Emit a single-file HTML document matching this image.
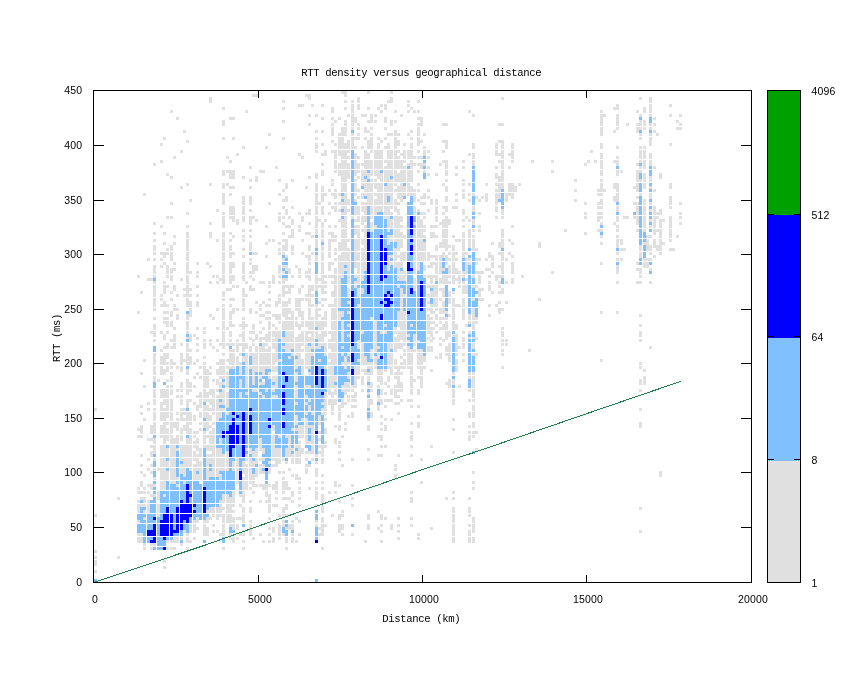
<!DOCTYPE html>
<html><head><meta charset="utf-8"><title>RTT density versus geographical distance</title>
<style>
html,body{margin:0;padding:0;background:#fff}
svg{display:block}
.s{font-family:"Liberation Sans",sans-serif;font-size:10.5px;letter-spacing:0.16px;fill:#000}
.m{font-family:"Liberation Mono",monospace;font-size:10.6px;letter-spacing:-0.36px;fill:#000}
</style></head><body>
<svg width="845" height="673" viewBox="0 0 845 673">
<rect width="845" height="673" fill="#fff"/>
<g shape-rendering="crispEdges">
<path fill="#e0e0e0" d="M341 91h6v3h-6zM367 91h3v3h-3zM390 91h3v3h-3zM252 94h6v3h-6zM305 94h6v3h-6zM344 94h3v3h-3zM209 97h3v3h-3zM308 97h3v3h-3zM357 97h3v3h-3zM390 97h3v3h-3zM501 97h3v3h-3zM639 97h3v3h-3zM649 97h3v3h-3zM209 100h3v3h-3zM282 100h3v3h-3zM344 100h3v3h-3zM351 100h3v3h-3zM357 100h3v3h-3zM387 100h6v3h-6zM407 100h3v3h-3zM417 100h3v3h-3zM649 100h3v3h-3zM298 104h6v3h-6zM311 104h3v3h-3zM321 104h3v3h-3zM351 104h3v3h-3zM357 104h3v3h-3zM380 104h3v3h-3zM384 104h3v3h-3zM407 104h3v3h-3zM616 104h3v3h-3zM649 104h3v3h-3zM669 104h3v3h-3zM222 107h3v3h-3zM282 107h3v3h-3zM331 107h3v3h-3zM344 107h3v3h-3zM351 107h3v3h-3zM357 107h3v3h-3zM367 107h3v3h-3zM377 107h3v3h-3zM384 107h3v3h-3zM410 107h3v3h-3zM613 107h6v3h-6zM643 107h3v3h-3zM649 107h3v3h-3zM170 110h3v3h-3zM245 110h3v3h-3zM331 110h3v3h-3zM351 110h3v3h-3zM380 110h3v3h-3zM394 110h3v3h-3zM407 110h3v3h-3zM413 110h3v3h-3zM417 110h3v3h-3zM468 110h3v3h-3zM600 110h3v3h-3zM636 110h3v3h-3zM643 110h3v3h-3zM649 110h3v3h-3zM308 114h3v3h-3zM315 114h3v3h-3zM347 114h3v3h-3zM351 114h3v3h-3zM361 114h6v3h-6zM370 114h3v3h-3zM374 114h3v3h-3zM400 114h3v3h-3zM472 114h3v3h-3zM600 114h6v3h-6zM616 114h3v3h-3zM639 114h3v3h-3zM649 114h3v3h-3zM669 114h3v3h-3zM679 114h3v3h-3zM176 117h3v3h-3zM229 117h6v3h-6zM321 117h3v3h-3zM331 117h3v3h-3zM338 117h3v3h-3zM351 117h6v3h-6zM370 117h3v3h-3zM384 117h3v3h-3zM417 117h6v3h-6zM600 117h3v3h-3zM616 117h3v3h-3zM653 117h3v3h-3zM222 120h3v3h-3zM282 120h3v3h-3zM334 120h3v3h-3zM344 120h3v3h-3zM351 120h6v3h-6zM367 120h6v3h-6zM374 120h3v3h-3zM384 120h3v3h-3zM390 120h3v3h-3zM394 120h3v3h-3zM420 120h3v3h-3zM600 120h3v3h-3zM616 120h3v3h-3zM639 120h3v3h-3zM643 120h3v3h-3zM676 120h3v3h-3zM222 123h3v3h-3zM308 123h3v3h-3zM331 123h3v3h-3zM344 123h3v3h-3zM351 123h3v3h-3zM357 123h3v3h-3zM390 123h3v3h-3zM417 123h6v3h-6zM442 123h6v3h-6zM498 123h6v3h-6zM600 123h3v3h-3zM616 123h3v3h-3zM626 123h3v3h-3zM636 123h6v3h-6zM643 123h3v3h-3zM649 123h3v3h-3zM653 123h3v3h-3zM679 123h3v3h-3zM331 127h3v3h-3zM341 127h6v3h-6zM351 127h3v3h-3zM357 127h3v3h-3zM364 127h3v3h-3zM370 127h3v3h-3zM384 127h3v3h-3zM417 127h3v3h-3zM600 127h3v3h-3zM616 127h3v3h-3zM636 127h6v3h-6zM643 127h3v3h-3zM649 127h3v3h-3zM676 127h6v3h-6zM183 130h3v3h-3zM315 130h3v3h-3zM321 130h3v3h-3zM331 130h3v3h-3zM341 130h6v3h-6zM364 130h6v3h-6zM394 130h3v3h-3zM410 130h3v3h-3zM417 130h3v3h-3zM600 130h3v3h-3zM613 130h3v3h-3zM636 130h3v3h-3zM653 130h3v3h-3zM268 133h3v3h-3zM331 133h3v3h-3zM338 133h9v3h-9zM351 133h3v3h-3zM357 133h3v3h-3zM370 133h3v3h-3zM387 133h6v3h-6zM394 133h6v3h-6zM407 133h3v3h-3zM417 133h3v3h-3zM423 133h3v3h-3zM600 133h3v3h-3zM639 133h3v3h-3zM649 133h3v3h-3zM656 133h3v3h-3zM163 137h3v3h-3zM222 137h3v3h-3zM232 137h3v3h-3zM282 137h3v3h-3zM315 137h3v3h-3zM338 137h6v3h-6zM351 137h9v3h-9zM364 137h3v3h-3zM370 137h3v3h-3zM377 137h3v3h-3zM384 137h3v3h-3zM394 137h3v3h-3zM410 137h3v3h-3zM417 137h3v3h-3zM639 137h3v3h-3zM649 137h3v3h-3zM186 140h3v3h-3zM331 140h3v3h-3zM338 140h6v3h-6zM347 140h3v3h-3zM351 140h3v3h-3zM367 140h6v3h-6zM380 140h3v3h-3zM394 140h6v3h-6zM417 140h6v3h-6zM442 140h6v3h-6zM498 140h6v3h-6zM649 140h3v3h-3zM160 143h3v3h-3zM315 143h3v3h-3zM321 143h3v3h-3zM334 143h3v3h-3zM338 143h12v3h-12zM351 143h3v3h-3zM367 143h6v3h-6zM377 143h3v3h-3zM387 143h3v3h-3zM394 143h6v3h-6zM403 143h3v3h-3zM410 143h3v3h-3zM417 143h3v3h-3zM445 143h3v3h-3zM472 143h3v3h-3zM495 143h3v3h-3zM501 143h3v3h-3zM511 143h3v3h-3zM600 143h3v3h-3zM649 143h3v3h-3zM669 143h3v3h-3zM242 146h3v3h-3zM265 146h3v3h-3zM315 146h3v3h-3zM338 146h12v3h-12zM351 146h6v3h-6zM361 146h3v3h-3zM367 146h6v3h-6zM377 146h3v3h-3zM384 146h6v3h-6zM394 146h3v3h-3zM410 146h3v3h-3zM423 146h3v3h-3zM445 146h3v3h-3zM472 146h3v3h-3zM495 146h3v3h-3zM501 146h3v3h-3zM511 146h3v3h-3zM600 146h3v3h-3zM616 146h3v3h-3zM639 146h3v3h-3zM643 146h3v3h-3zM180 150h3v3h-3zM315 150h3v3h-3zM324 150h3v3h-3zM331 150h6v3h-6zM338 150h12v3h-12zM364 150h3v3h-3zM370 150h3v3h-3zM374 150h9v3h-9zM387 150h6v3h-6zM394 150h6v3h-6zM403 150h3v3h-3zM407 150h6v3h-6zM417 150h3v3h-3zM423 150h3v3h-3zM427 150h3v3h-3zM442 150h3v3h-3zM495 150h3v3h-3zM501 150h3v3h-3zM511 150h3v3h-3zM590 150h3v3h-3zM639 150h3v3h-3zM643 150h3v3h-3zM236 153h3v3h-3zM298 153h3v3h-3zM321 153h6v3h-6zM334 153h3v3h-3zM338 153h9v3h-9zM354 153h3v3h-3zM364 153h6v3h-6zM374 153h9v3h-9zM387 153h6v3h-6zM394 153h3v3h-3zM400 153h6v3h-6zM407 153h6v3h-6zM423 153h3v3h-3zM468 153h3v3h-3zM472 153h3v3h-3zM495 153h9v3h-9zM508 153h6v3h-6zM600 153h3v3h-3zM639 153h3v3h-3zM643 153h3v3h-3zM649 153h3v3h-3zM173 156h3v3h-3zM226 156h3v3h-3zM301 156h3v3h-3zM334 156h3v3h-3zM341 156h9v3h-9zM354 156h6v3h-6zM364 156h6v3h-6zM374 156h9v3h-9zM387 156h6v3h-6zM394 156h6v3h-6zM403 156h3v3h-3zM407 156h9v3h-9zM417 156h6v3h-6zM427 156h3v3h-3zM472 156h3v3h-3zM501 156h3v3h-3zM511 156h3v3h-3zM600 156h3v3h-3zM616 156h3v3h-3zM639 156h3v3h-3zM643 156h3v3h-3zM649 156h3v3h-3zM160 160h3v3h-3zM229 160h3v3h-3zM334 160h3v3h-3zM341 160h6v3h-6zM354 160h3v3h-3zM364 160h9v3h-9zM374 160h9v3h-9zM384 160h9v3h-9zM394 160h12v3h-12zM410 160h3v3h-3zM442 160h6v3h-6zM462 160h3v3h-3zM472 160h3v3h-3zM498 160h6v3h-6zM511 160h3v3h-3zM531 160h3v3h-3zM551 160h3v3h-3zM587 160h3v3h-3zM594 160h3v3h-3zM600 160h3v3h-3zM613 160h6v3h-6zM639 160h3v3h-3zM643 160h3v3h-3zM649 160h3v3h-3zM153 163h3v3h-3zM321 163h3v3h-3zM334 163h3v3h-3zM338 163h12v3h-12zM354 163h6v3h-6zM361 163h12v3h-12zM374 163h9v3h-9zM387 163h6v3h-6zM394 163h9v3h-9zM407 163h9v3h-9zM417 163h9v3h-9zM439 163h3v3h-3zM445 163h3v3h-3zM472 163h3v3h-3zM501 163h3v3h-3zM584 163h3v3h-3zM600 163h3v3h-3zM616 163h3v3h-3zM636 163h3v3h-3zM643 163h3v3h-3zM649 163h3v3h-3zM249 166h3v3h-3zM275 166h3v3h-3zM334 166h3v3h-3zM338 166h12v3h-12zM354 166h6v3h-6zM364 166h9v3h-9zM374 166h9v3h-9zM384 166h9v3h-9zM394 166h12v3h-12zM410 166h3v3h-3zM420 166h3v3h-3zM427 166h3v3h-3zM445 166h3v3h-3zM455 166h3v3h-3zM462 166h3v3h-3zM495 166h3v3h-3zM501 166h3v3h-3zM508 166h3v3h-3zM600 166h3v3h-3zM639 166h3v3h-3zM643 166h3v3h-3zM653 166h3v3h-3zM222 170h3v3h-3zM226 170h9v3h-9zM259 170h6v3h-6zM321 170h3v3h-3zM334 170h3v3h-3zM338 170h12v3h-12zM354 170h6v3h-6zM361 170h6v3h-6zM370 170h3v3h-3zM374 170h6v3h-6zM384 170h9v3h-9zM394 170h3v3h-3zM400 170h6v3h-6zM407 170h6v3h-6zM417 170h3v3h-3zM423 170h3v3h-3zM445 170h3v3h-3zM501 170h3v3h-3zM551 170h3v3h-3zM600 170h3v3h-3zM616 170h3v3h-3zM620 170h3v3h-3zM636 170h6v3h-6zM166 173h3v3h-3zM222 173h3v3h-3zM229 173h6v3h-6zM315 173h3v3h-3zM321 173h3v3h-3zM338 173h12v3h-12zM354 173h3v3h-3zM361 173h12v3h-12zM374 173h9v3h-9zM384 173h9v3h-9zM394 173h12v3h-12zM407 173h6v3h-6zM427 173h3v3h-3zM435 173h3v3h-3zM445 173h3v3h-3zM455 173h3v3h-3zM495 173h3v3h-3zM501 173h3v3h-3zM600 173h3v3h-3zM616 173h3v3h-3zM636 173h3v3h-3zM643 173h3v3h-3zM659 173h3v3h-3zM170 176h3v3h-3zM229 176h6v3h-6zM242 176h3v3h-3zM255 176h3v3h-3zM308 176h3v3h-3zM315 176h3v3h-3zM341 176h9v3h-9zM357 176h3v3h-3zM361 176h3v3h-3zM367 176h3v3h-3zM377 176h6v3h-6zM384 176h6v3h-6zM394 176h12v3h-12zM407 176h6v3h-6zM495 176h9v3h-9zM636 176h3v3h-3zM643 176h3v3h-3zM649 176h3v3h-3zM659 176h3v3h-3zM249 179h3v3h-3zM255 179h3v3h-3zM278 179h3v3h-3zM291 179h3v3h-3zM331 179h3v3h-3zM341 179h6v3h-6zM354 179h3v3h-3zM361 179h6v3h-6zM370 179h3v3h-3zM374 179h3v3h-3zM380 179h3v3h-3zM384 179h9v3h-9zM394 179h12v3h-12zM407 179h6v3h-6zM445 179h3v3h-3zM462 179h3v3h-3zM498 179h6v3h-6zM574 179h3v3h-3zM600 179h3v3h-3zM636 179h6v3h-6zM643 179h3v3h-3zM649 179h3v3h-3zM186 183h3v3h-3zM209 183h3v3h-3zM222 183h3v3h-3zM226 183h3v3h-3zM285 183h3v3h-3zM315 183h3v3h-3zM331 183h3v3h-3zM341 183h6v3h-6zM354 183h3v3h-3zM361 183h12v3h-12zM374 183h9v3h-9zM387 183h6v3h-6zM394 183h3v3h-3zM400 183h3v3h-3zM407 183h3v3h-3zM417 183h3v3h-3zM442 183h3v3h-3zM462 183h3v3h-3zM468 183h3v3h-3zM485 183h3v3h-3zM495 183h9v3h-9zM508 183h6v3h-6zM518 183h3v3h-3zM600 183h3v3h-3zM613 183h6v3h-6zM636 183h3v3h-3zM643 183h3v3h-3zM669 183h3v3h-3zM180 186h3v3h-3zM222 186h3v3h-3zM229 186h6v3h-6zM249 186h3v3h-3zM285 186h3v3h-3zM305 186h3v3h-3zM315 186h3v3h-3zM321 186h3v3h-3zM341 186h6v3h-6zM354 186h3v3h-3zM364 186h9v3h-9zM374 186h9v3h-9zM384 186h9v3h-9zM397 186h9v3h-9zM407 186h6v3h-6zM445 186h3v3h-3zM498 186h6v3h-6zM508 186h9v3h-9zM600 186h3v3h-3zM613 186h6v3h-6zM633 186h6v3h-6zM643 186h3v3h-3zM649 186h3v3h-3zM669 186h3v3h-3zM282 189h3v3h-3zM315 189h3v3h-3zM321 189h3v3h-3zM328 189h3v3h-3zM334 189h3v3h-3zM341 189h6v3h-6zM354 189h6v3h-6zM364 189h9v3h-9zM377 189h6v3h-6zM384 189h9v3h-9zM394 189h12v3h-12zM407 189h9v3h-9zM417 189h3v3h-3zM427 189h3v3h-3zM445 189h3v3h-3zM462 189h3v3h-3zM495 189h6v3h-6zM508 189h9v3h-9zM574 189h3v3h-3zM597 189h9v3h-9zM616 189h3v3h-3zM636 189h3v3h-3zM653 189h3v3h-3zM143 193h3v3h-3zM222 193h3v3h-3zM229 193h3v3h-3zM278 193h3v3h-3zM315 193h3v3h-3zM321 193h6v3h-6zM331 193h6v3h-6zM338 193h3v3h-3zM344 193h3v3h-3zM354 193h3v3h-3zM361 193h12v3h-12zM374 193h9v3h-9zM384 193h9v3h-9zM397 193h9v3h-9zM407 193h9v3h-9zM423 193h3v3h-3zM455 193h3v3h-3zM462 193h3v3h-3zM468 193h3v3h-3zM472 193h3v3h-3zM485 193h3v3h-3zM495 193h6v3h-6zM505 193h9v3h-9zM597 193h6v3h-6zM616 193h3v3h-3zM639 193h3v3h-3zM649 193h3v3h-3zM222 196h3v3h-3zM242 196h3v3h-3zM249 196h3v3h-3zM285 196h3v3h-3zM315 196h3v3h-3zM321 196h3v3h-3zM334 196h3v3h-3zM341 196h6v3h-6zM357 196h3v3h-3zM361 196h3v3h-3zM367 196h6v3h-6zM377 196h6v3h-6zM384 196h3v3h-3zM390 196h3v3h-3zM397 196h6v3h-6zM413 196h3v3h-3zM420 196h6v3h-6zM427 196h3v3h-3zM445 196h3v3h-3zM462 196h3v3h-3zM475 196h3v3h-3zM481 196h3v3h-3zM485 196h3v3h-3zM495 196h6v3h-6zM505 196h3v3h-3zM511 196h3v3h-3zM613 196h6v3h-6zM636 196h3v3h-3zM649 196h3v3h-3zM669 196h3v3h-3zM189 199h3v3h-3zM222 199h3v3h-3zM242 199h3v3h-3zM249 199h3v3h-3zM282 199h6v3h-6zM315 199h3v3h-3zM321 199h3v3h-3zM344 199h6v3h-6zM354 199h3v3h-3zM367 199h6v3h-6zM374 199h9v3h-9zM384 199h3v3h-3zM390 199h3v3h-3zM394 199h3v3h-3zM400 199h3v3h-3zM413 199h3v3h-3zM417 199h3v3h-3zM430 199h3v3h-3zM435 199h3v3h-3zM445 199h3v3h-3zM455 199h3v3h-3zM468 199h3v3h-3zM478 199h3v3h-3zM485 199h3v3h-3zM495 199h3v3h-3zM505 199h3v3h-3zM574 199h3v3h-3zM600 199h3v3h-3zM613 199h6v3h-6zM643 199h3v3h-3zM669 199h3v3h-3zM170 202h3v3h-3zM222 202h3v3h-3zM242 202h3v3h-3zM249 202h3v3h-3zM268 202h3v3h-3zM315 202h6v3h-6zM328 202h3v3h-3zM334 202h3v3h-3zM338 202h12v3h-12zM361 202h12v3h-12zM374 202h9v3h-9zM384 202h9v3h-9zM394 202h6v3h-6zM420 202h6v3h-6zM430 202h3v3h-3zM435 202h3v3h-3zM495 202h3v3h-3zM584 202h3v3h-3zM597 202h6v3h-6zM633 202h6v3h-6zM643 202h3v3h-3zM649 202h3v3h-3zM669 202h3v3h-3zM679 202h3v3h-3zM229 206h6v3h-6zM242 206h3v3h-3zM282 206h3v3h-3zM291 206h3v3h-3zM315 206h3v3h-3zM321 206h3v3h-3zM331 206h6v3h-6zM341 206h6v3h-6zM354 206h6v3h-6zM361 206h6v3h-6zM370 206h3v3h-3zM374 206h9v3h-9zM384 206h9v3h-9zM394 206h3v3h-3zM413 206h3v3h-3zM435 206h3v3h-3zM442 206h6v3h-6zM452 206h6v3h-6zM472 206h3v3h-3zM495 206h3v3h-3zM597 206h6v3h-6zM616 206h3v3h-3zM636 206h3v3h-3zM643 206h3v3h-3zM653 206h3v3h-3zM669 206h3v3h-3zM216 209h3v3h-3zM229 209h6v3h-6zM242 209h3v3h-3zM249 209h3v3h-3zM285 209h3v3h-3zM308 209h3v3h-3zM315 209h3v3h-3zM321 209h3v3h-3zM334 209h3v3h-3zM338 209h3v3h-3zM344 209h6v3h-6zM354 209h6v3h-6zM361 209h6v3h-6zM370 209h3v3h-3zM374 209h9v3h-9zM384 209h6v3h-6zM394 209h6v3h-6zM413 209h3v3h-3zM417 209h3v3h-3zM427 209h3v3h-3zM435 209h3v3h-3zM445 209h3v3h-3zM462 209h3v3h-3zM472 209h3v3h-3zM495 209h3v3h-3zM501 209h3v3h-3zM616 209h3v3h-3zM636 209h3v3h-3zM643 209h3v3h-3zM649 209h3v3h-3zM653 209h3v3h-3zM659 209h3v3h-3zM186 212h3v3h-3zM222 212h3v3h-3zM229 212h6v3h-6zM242 212h3v3h-3zM278 212h3v3h-3zM285 212h3v3h-3zM298 212h3v3h-3zM305 212h6v3h-6zM315 212h3v3h-3zM321 212h3v3h-3zM328 212h3v3h-3zM341 212h6v3h-6zM354 212h6v3h-6zM364 212h3v3h-3zM370 212h3v3h-3zM374 212h3v3h-3zM384 212h9v3h-9zM397 212h3v3h-3zM413 212h3v3h-3zM420 212h6v3h-6zM435 212h3v3h-3zM442 212h3v3h-3zM462 212h3v3h-3zM478 212h3v3h-3zM501 212h3v3h-3zM584 212h3v3h-3zM597 212h6v3h-6zM636 212h3v3h-3zM643 212h3v3h-3zM653 212h9v3h-9zM679 212h3v3h-3zM166 216h3v3h-3zM170 216h3v3h-3zM222 216h3v3h-3zM229 216h6v3h-6zM242 216h3v3h-3zM249 216h6v3h-6zM278 216h3v3h-3zM282 216h3v3h-3zM288 216h3v3h-3zM301 216h3v3h-3zM315 216h3v3h-3zM344 216h3v3h-3zM351 216h3v3h-3zM357 216h3v3h-3zM361 216h6v3h-6zM370 216h3v3h-3zM384 216h6v3h-6zM394 216h9v3h-9zM417 216h3v3h-3zM423 216h3v3h-3zM435 216h3v3h-3zM445 216h3v3h-3zM465 216h3v3h-3zM495 216h3v3h-3zM501 216h3v3h-3zM584 216h3v3h-3zM597 216h6v3h-6zM616 216h3v3h-3zM623 216h6v3h-6zM633 216h6v3h-6zM643 216h3v3h-3zM653 216h6v3h-6zM669 216h3v3h-3zM679 216h3v3h-3zM222 219h3v3h-3zM232 219h3v3h-3zM236 219h3v3h-3zM242 219h3v3h-3zM249 219h3v3h-3zM255 219h3v3h-3zM278 219h3v3h-3zM291 219h3v3h-3zM301 219h3v3h-3zM315 219h6v3h-6zM324 219h3v3h-3zM338 219h9v3h-9zM354 219h6v3h-6zM361 219h6v3h-6zM387 219h6v3h-6zM394 219h9v3h-9zM417 219h6v3h-6zM435 219h3v3h-3zM442 219h9v3h-9zM462 219h3v3h-3zM468 219h3v3h-3zM472 219h3v3h-3zM597 219h3v3h-3zM616 219h3v3h-3zM636 219h3v3h-3zM643 219h3v3h-3zM649 219h3v3h-3zM653 219h3v3h-3zM659 219h6v3h-6zM669 219h3v3h-3zM153 222h3v3h-3zM209 222h3v3h-3zM222 222h3v3h-3zM236 222h3v3h-3zM249 222h3v3h-3zM282 222h3v3h-3zM291 222h3v3h-3zM308 222h3v3h-3zM315 222h3v3h-3zM321 222h3v3h-3zM341 222h6v3h-6zM361 222h3v3h-3zM370 222h3v3h-3zM387 222h6v3h-6zM394 222h6v3h-6zM413 222h3v3h-3zM417 222h6v3h-6zM439 222h12v3h-12zM472 222h3v3h-3zM600 222h3v3h-3zM613 222h3v3h-3zM636 222h3v3h-3zM643 222h3v3h-3zM653 222h3v3h-3zM659 222h3v3h-3zM669 222h3v3h-3zM679 222h3v3h-3zM160 225h3v3h-3zM186 225h3v3h-3zM222 225h3v3h-3zM265 225h3v3h-3zM285 225h6v3h-6zM298 225h3v3h-3zM315 225h3v3h-3zM321 225h3v3h-3zM328 225h3v3h-3zM334 225h3v3h-3zM341 225h6v3h-6zM354 225h6v3h-6zM364 225h3v3h-3zM370 225h3v3h-3zM374 225h3v3h-3zM387 225h6v3h-6zM394 225h9v3h-9zM417 225h9v3h-9zM430 225h3v3h-3zM432 225h6v3h-6zM442 225h6v3h-6zM462 225h3v3h-3zM478 225h3v3h-3zM511 225h3v3h-3zM616 225h3v3h-3zM643 225h3v3h-3zM649 225h3v3h-3zM653 225h3v3h-3zM659 225h3v3h-3zM669 225h3v3h-3zM242 229h3v3h-3zM249 229h3v3h-3zM291 229h3v3h-3zM298 229h3v3h-3zM315 229h3v3h-3zM321 229h3v3h-3zM341 229h6v3h-6zM354 229h6v3h-6zM361 229h6v3h-6zM370 229h3v3h-3zM387 229h3v3h-3zM394 229h6v3h-6zM413 229h3v3h-3zM417 229h9v3h-9zM442 229h6v3h-6zM468 229h3v3h-3zM472 229h3v3h-3zM478 229h3v3h-3zM501 229h3v3h-3zM564 229h3v3h-3zM597 229h6v3h-6zM616 229h3v3h-3zM636 229h3v3h-3zM643 229h3v3h-3zM653 229h9v3h-9zM669 229h3v3h-3zM153 232h3v3h-3zM163 232h3v3h-3zM186 232h3v3h-3zM209 232h3v3h-3zM222 232h3v3h-3zM229 232h3v3h-3zM282 232h3v3h-3zM291 232h3v3h-3zM305 232h6v3h-6zM315 232h3v3h-3zM321 232h3v3h-3zM328 232h6v3h-6zM341 232h6v3h-6zM354 232h6v3h-6zM364 232h3v3h-3zM394 232h9v3h-9zM413 232h3v3h-3zM417 232h6v3h-6zM430 232h3v3h-3zM432 232h3v3h-3zM442 232h6v3h-6zM462 232h3v3h-3zM468 232h3v3h-3zM501 232h3v3h-3zM584 232h3v3h-3zM653 232h3v3h-3zM659 232h3v3h-3zM669 232h3v3h-3zM173 235h3v3h-3zM186 235h3v3h-3zM209 235h3v3h-3zM222 235h3v3h-3zM232 235h3v3h-3zM242 235h3v3h-3zM249 235h3v3h-3zM288 235h6v3h-6zM311 235h3v3h-3zM321 235h3v3h-3zM331 235h6v3h-6zM341 235h6v3h-6zM357 235h3v3h-3zM364 235h3v3h-3zM387 235h6v3h-6zM394 235h12v3h-12zM413 235h3v3h-3zM417 235h9v3h-9zM430 235h3v3h-3zM432 235h6v3h-6zM442 235h6v3h-6zM452 235h3v3h-3zM462 235h3v3h-3zM468 235h3v3h-3zM472 235h3v3h-3zM501 235h3v3h-3zM600 235h3v3h-3zM616 235h3v3h-3zM646 235h6v3h-6zM659 235h3v3h-3zM669 235h3v3h-3zM676 235h3v3h-3zM153 239h3v3h-3zM186 239h3v3h-3zM216 239h3v3h-3zM222 239h3v3h-3zM229 239h3v3h-3zM242 239h3v3h-3zM268 239h3v3h-3zM272 239h3v3h-3zM282 239h6v3h-6zM301 239h3v3h-3zM315 239h3v3h-3zM321 239h3v3h-3zM328 239h9v3h-9zM341 239h9v3h-9zM354 239h6v3h-6zM361 239h6v3h-6zM387 239h6v3h-6zM394 239h9v3h-9zM413 239h3v3h-3zM417 239h6v3h-6zM442 239h6v3h-6zM455 239h6v3h-6zM462 239h3v3h-3zM468 239h3v3h-3zM472 239h3v3h-3zM501 239h3v3h-3zM508 239h3v3h-3zM616 239h3v3h-3zM620 239h3v3h-3zM646 239h3v3h-3zM653 239h3v3h-3zM659 239h3v3h-3zM669 239h3v3h-3zM163 242h3v3h-3zM173 242h3v3h-3zM186 242h3v3h-3zM222 242h3v3h-3zM249 242h3v3h-3zM265 242h3v3h-3zM278 242h3v3h-3zM285 242h3v3h-3zM315 242h3v3h-3zM328 242h3v3h-3zM338 242h9v3h-9zM354 242h6v3h-6zM361 242h6v3h-6zM387 242h3v3h-3zM397 242h6v3h-6zM413 242h3v3h-3zM417 242h9v3h-9zM439 242h9v3h-9zM462 242h3v3h-3zM468 242h3v3h-3zM472 242h3v3h-3zM491 242h3v3h-3zM498 242h6v3h-6zM511 242h3v3h-3zM538 242h3v3h-3zM600 242h3v3h-3zM616 242h3v3h-3zM620 242h3v3h-3zM643 242h6v3h-6zM653 242h3v3h-3zM659 242h6v3h-6zM153 245h3v3h-3zM170 245h3v3h-3zM186 245h3v3h-3zM222 245h3v3h-3zM229 245h3v3h-3zM249 245h3v3h-3zM282 245h6v3h-6zM291 245h3v3h-3zM308 245h3v3h-3zM315 245h3v3h-3zM321 245h3v3h-3zM328 245h3v3h-3zM338 245h9v3h-9zM354 245h6v3h-6zM364 245h3v3h-3zM397 245h6v3h-6zM413 245h3v3h-3zM417 245h9v3h-9zM435 245h3v3h-3zM439 245h12v3h-12zM452 245h3v3h-3zM462 245h3v3h-3zM468 245h3v3h-3zM472 245h3v3h-3zM498 245h6v3h-6zM538 245h3v3h-3zM616 245h3v3h-3zM639 245h3v3h-3zM646 245h6v3h-6zM653 245h9v3h-9zM153 248h3v3h-3zM166 248h3v3h-3zM170 248h3v3h-3zM186 248h3v3h-3zM222 248h3v3h-3zM229 248h3v3h-3zM242 248h3v3h-3zM249 248h3v3h-3zM278 248h3v3h-3zM282 248h6v3h-6zM291 248h3v3h-3zM308 248h3v3h-3zM321 248h3v3h-3zM328 248h3v3h-3zM334 248h3v3h-3zM338 248h12v3h-12zM354 248h6v3h-6zM361 248h6v3h-6zM394 248h6v3h-6zM413 248h3v3h-3zM417 248h9v3h-9zM435 248h3v3h-3zM445 248h3v3h-3zM452 248h3v3h-3zM462 248h3v3h-3zM472 248h6v3h-6zM620 248h6v3h-6zM639 248h3v3h-3zM646 248h6v3h-6zM656 248h6v3h-6zM669 248h6v3h-6zM153 252h3v3h-3zM160 252h9v3h-9zM170 252h3v3h-3zM186 252h3v3h-3zM222 252h3v3h-3zM229 252h6v3h-6zM252 252h6v3h-6zM278 252h3v3h-3zM282 252h3v3h-3zM291 252h3v3h-3zM301 252h3v3h-3zM311 252h3v3h-3zM321 252h3v3h-3zM328 252h3v3h-3zM334 252h3v3h-3zM341 252h9v3h-9zM354 252h6v3h-6zM361 252h6v3h-6zM394 252h3v3h-3zM400 252h6v3h-6zM413 252h3v3h-3zM417 252h9v3h-9zM427 252h3v3h-3zM442 252h3v3h-3zM448 252h3v3h-3zM452 252h6v3h-6zM462 252h6v3h-6zM488 252h3v3h-3zM498 252h6v3h-6zM508 252h3v3h-3zM616 252h3v3h-3zM639 252h3v3h-3zM649 252h3v3h-3zM659 252h3v3h-3zM163 255h3v3h-3zM170 255h3v3h-3zM186 255h3v3h-3zM222 255h3v3h-3zM229 255h3v3h-3zM242 255h3v3h-3zM265 255h3v3h-3zM285 255h3v3h-3zM305 255h6v3h-6zM315 255h3v3h-3zM321 255h3v3h-3zM328 255h3v3h-3zM338 255h12v3h-12zM354 255h6v3h-6zM361 255h6v3h-6zM387 255h6v3h-6zM394 255h12v3h-12zM413 255h3v3h-3zM417 255h9v3h-9zM427 255h6v3h-6zM432 255h6v3h-6zM439 255h9v3h-9zM452 255h3v3h-3zM462 255h3v3h-3zM488 255h6v3h-6zM501 255h3v3h-3zM511 255h3v3h-3zM639 255h3v3h-3zM653 255h3v3h-3zM147 258h3v3h-3zM153 258h3v3h-3zM160 258h3v3h-3zM170 258h3v3h-3zM186 258h3v3h-3zM222 258h3v3h-3zM249 258h3v3h-3zM282 258h3v3h-3zM308 258h3v3h-3zM315 258h3v3h-3zM321 258h3v3h-3zM334 258h3v3h-3zM338 258h12v3h-12zM354 258h6v3h-6zM361 258h6v3h-6zM387 258h3v3h-3zM394 258h3v3h-3zM400 258h6v3h-6zM413 258h3v3h-3zM417 258h9v3h-9zM427 258h3v3h-3zM435 258h3v3h-3zM439 258h3v3h-3zM445 258h6v3h-6zM452 258h6v3h-6zM465 258h6v3h-6zM475 258h6v3h-6zM485 258h3v3h-3zM491 258h3v3h-3zM501 258h3v3h-3zM505 258h3v3h-3zM616 258h3v3h-3zM620 258h3v3h-3zM643 258h9v3h-9zM163 262h3v3h-3zM173 262h3v3h-3zM186 262h3v3h-3zM196 262h3v3h-3zM206 262h3v3h-3zM222 262h3v3h-3zM229 262h6v3h-6zM242 262h3v3h-3zM249 262h3v3h-3zM308 262h3v3h-3zM321 262h3v3h-3zM328 262h6v3h-6zM338 262h12v3h-12zM354 262h6v3h-6zM361 262h6v3h-6zM387 262h6v3h-6zM394 262h9v3h-9zM413 262h3v3h-3zM417 262h3v3h-3zM430 262h3v3h-3zM432 262h6v3h-6zM439 262h3v3h-3zM445 262h3v3h-3zM452 262h3v3h-3zM465 262h6v3h-6zM475 262h3v3h-3zM491 262h3v3h-3zM501 262h3v3h-3zM511 262h3v3h-3zM600 262h3v3h-3zM636 262h3v3h-3zM643 262h6v3h-6zM153 265h3v3h-3zM160 265h3v3h-3zM166 265h3v3h-3zM186 265h3v3h-3zM209 265h3v3h-3zM222 265h3v3h-3zM229 265h6v3h-6zM242 265h3v3h-3zM252 265h6v3h-6zM278 265h3v3h-3zM282 265h6v3h-6zM295 265h3v3h-3zM321 265h3v3h-3zM328 265h3v3h-3zM338 265h6v3h-6zM347 265h3v3h-3zM354 265h6v3h-6zM361 265h6v3h-6zM387 265h3v3h-3zM394 265h9v3h-9zM413 265h3v3h-3zM417 265h3v3h-3zM423 265h3v3h-3zM427 265h6v3h-6zM435 265h3v3h-3zM439 265h3v3h-3zM448 265h3v3h-3zM452 265h3v3h-3zM465 265h3v3h-3zM491 265h3v3h-3zM498 265h6v3h-6zM511 265h3v3h-3zM616 265h3v3h-3zM643 265h6v3h-6zM153 268h3v3h-3zM166 268h3v3h-3zM170 268h6v3h-6zM186 268h3v3h-3zM222 268h3v3h-3zM229 268h3v3h-3zM242 268h3v3h-3zM252 268h6v3h-6zM278 268h3v3h-3zM285 268h6v3h-6zM298 268h3v3h-3zM308 268h3v3h-3zM321 268h3v3h-3zM328 268h3v3h-3zM334 268h3v3h-3zM338 268h12v3h-12zM357 268h3v3h-3zM361 268h6v3h-6zM387 268h3v3h-3zM397 268h3v3h-3zM413 268h3v3h-3zM417 268h3v3h-3zM423 268h3v3h-3zM435 268h3v3h-3zM439 268h6v3h-6zM448 268h3v3h-3zM452 268h6v3h-6zM465 268h3v3h-3zM485 268h6v3h-6zM501 268h3v3h-3zM511 268h3v3h-3zM616 268h3v3h-3zM636 268h6v3h-6zM649 268h3v3h-3zM153 271h3v3h-3zM166 271h3v3h-3zM170 271h3v3h-3zM186 271h6v3h-6zM196 271h3v3h-3zM222 271h3v3h-3zM229 271h3v3h-3zM242 271h3v3h-3zM249 271h6v3h-6zM278 271h3v3h-3zM282 271h3v3h-3zM288 271h3v3h-3zM298 271h3v3h-3zM305 271h6v3h-6zM321 271h3v3h-3zM334 271h3v3h-3zM338 271h6v3h-6zM347 271h3v3h-3zM357 271h3v3h-3zM361 271h3v3h-3zM397 271h9v3h-9zM413 271h3v3h-3zM435 271h3v3h-3zM439 271h3v3h-3zM448 271h3v3h-3zM452 271h9v3h-9zM462 271h6v3h-6zM475 271h9v3h-9zM491 271h3v3h-3zM501 271h3v3h-3zM511 271h3v3h-3zM551 271h3v3h-3zM616 271h3v3h-3zM639 271h3v3h-3zM137 275h3v3h-3zM153 275h3v3h-3zM166 275h3v3h-3zM170 275h3v3h-3zM186 275h3v3h-3zM196 275h3v3h-3zM212 275h3v3h-3zM216 275h3v3h-3zM222 275h3v3h-3zM229 275h6v3h-6zM242 275h3v3h-3zM249 275h3v3h-3zM272 275h3v3h-3zM278 275h3v3h-3zM291 275h3v3h-3zM298 275h3v3h-3zM305 275h6v3h-6zM315 275h3v3h-3zM321 275h6v3h-6zM328 275h9v3h-9zM338 275h6v3h-6zM347 275h3v3h-3zM354 275h6v3h-6zM361 275h3v3h-3zM397 275h9v3h-9zM423 275h3v3h-3zM427 275h6v3h-6zM432 275h6v3h-6zM442 275h9v3h-9zM452 275h3v3h-3zM458 275h3v3h-3zM462 275h3v3h-3zM472 275h3v3h-3zM478 275h3v3h-3zM488 275h3v3h-3zM495 275h9v3h-9zM521 275h3v3h-3zM639 275h3v3h-3zM147 278h6v3h-6zM170 278h3v3h-3zM180 278h3v3h-3zM186 278h3v3h-3zM219 278h6v3h-6zM229 278h6v3h-6zM242 278h3v3h-3zM252 278h3v3h-3zM272 278h3v3h-3zM282 278h6v3h-6zM308 278h3v3h-3zM315 278h9v3h-9zM334 278h3v3h-3zM338 278h3v3h-3zM347 278h3v3h-3zM357 278h3v3h-3zM361 278h3v3h-3zM397 278h9v3h-9zM413 278h3v3h-3zM430 278h3v3h-3zM435 278h3v3h-3zM439 278h9v3h-9zM452 278h9v3h-9zM465 278h3v3h-3zM478 278h3v3h-3zM495 278h3v3h-3zM511 278h3v3h-3zM153 281h3v3h-3zM163 281h3v3h-3zM186 281h3v3h-3zM209 281h3v3h-3zM216 281h3v3h-3zM222 281h3v3h-3zM229 281h3v3h-3zM245 281h3v3h-3zM259 281h6v3h-6zM268 281h3v3h-3zM272 281h3v3h-3zM278 281h3v3h-3zM282 281h3v3h-3zM315 281h3v3h-3zM321 281h6v3h-6zM331 281h6v3h-6zM338 281h3v3h-3zM347 281h3v3h-3zM354 281h6v3h-6zM413 281h3v3h-3zM430 281h3v3h-3zM439 281h12v3h-12zM452 281h3v3h-3zM458 281h3v3h-3zM462 281h3v3h-3zM478 281h3v3h-3zM488 281h3v3h-3zM498 281h3v3h-3zM505 281h3v3h-3zM511 281h3v3h-3zM616 281h3v3h-3zM636 281h6v3h-6zM649 281h3v3h-3zM153 285h3v3h-3zM163 285h6v3h-6zM173 285h3v3h-3zM186 285h3v3h-3zM196 285h3v3h-3zM232 285h3v3h-3zM236 285h3v3h-3zM249 285h3v3h-3zM268 285h3v3h-3zM282 285h12v3h-12zM301 285h3v3h-3zM308 285h6v3h-6zM315 285h12v3h-12zM334 285h3v3h-3zM338 285h3v3h-3zM354 285h3v3h-3zM397 285h3v3h-3zM413 285h3v3h-3zM427 285h6v3h-6zM432 285h6v3h-6zM458 285h3v3h-3zM462 285h6v3h-6zM472 285h6v3h-6zM488 285h3v3h-3zM498 285h3v3h-3zM153 288h3v3h-3zM163 288h3v3h-3zM173 288h3v3h-3zM183 288h9v3h-9zM226 288h6v3h-6zM242 288h3v3h-3zM249 288h6v3h-6zM282 288h3v3h-3zM288 288h3v3h-3zM298 288h3v3h-3zM308 288h6v3h-6zM315 288h3v3h-3zM321 288h3v3h-3zM334 288h3v3h-3zM338 288h3v3h-3zM347 288h3v3h-3zM357 288h3v3h-3zM361 288h3v3h-3zM400 288h3v3h-3zM413 288h3v3h-3zM432 288h6v3h-6zM439 288h6v3h-6zM462 288h6v3h-6zM478 288h6v3h-6zM488 288h3v3h-3zM501 288h3v3h-3zM140 291h3v3h-3zM153 291h3v3h-3zM163 291h3v3h-3zM170 291h3v3h-3zM186 291h3v3h-3zM222 291h3v3h-3zM242 291h3v3h-3zM268 291h3v3h-3zM282 291h9v3h-9zM298 291h3v3h-3zM308 291h3v3h-3zM321 291h6v3h-6zM331 291h6v3h-6zM338 291h3v3h-3zM347 291h3v3h-3zM357 291h3v3h-3zM361 291h3v3h-3zM400 291h3v3h-3zM430 291h3v3h-3zM432 291h6v3h-6zM442 291h3v3h-3zM448 291h3v3h-3zM452 291h3v3h-3zM462 291h6v3h-6zM478 291h3v3h-3zM491 291h3v3h-3zM498 291h6v3h-6zM153 294h3v3h-3zM160 294h3v3h-3zM176 294h3v3h-3zM183 294h9v3h-9zM196 294h3v3h-3zM222 294h3v3h-3zM242 294h6v3h-6zM278 294h3v3h-3zM282 294h3v3h-3zM305 294h9v3h-9zM331 294h6v3h-6zM338 294h3v3h-3zM347 294h3v3h-3zM357 294h3v3h-3zM400 294h6v3h-6zM427 294h6v3h-6zM432 294h6v3h-6zM442 294h3v3h-3zM448 294h3v3h-3zM478 294h3v3h-3zM153 298h3v3h-3zM160 298h3v3h-3zM170 298h3v3h-3zM186 298h3v3h-3zM222 298h3v3h-3zM229 298h6v3h-6zM242 298h3v3h-3zM268 298h3v3h-3zM278 298h3v3h-3zM288 298h3v3h-3zM295 298h9v3h-9zM305 298h6v3h-6zM321 298h6v3h-6zM334 298h3v3h-3zM338 298h3v3h-3zM400 298h3v3h-3zM432 298h6v3h-6zM439 298h3v3h-3zM448 298h3v3h-3zM452 298h3v3h-3zM462 298h3v3h-3zM472 298h3v3h-3zM478 298h6v3h-6zM538 298h3v3h-3zM153 301h3v3h-3zM163 301h3v3h-3zM186 301h6v3h-6zM196 301h3v3h-3zM242 301h3v3h-3zM255 301h3v3h-3zM262 301h3v3h-3zM275 301h6v3h-6zM282 301h9v3h-9zM295 301h6v3h-6zM308 301h3v3h-3zM318 301h3v3h-3zM334 301h3v3h-3zM338 301h3v3h-3zM347 301h3v3h-3zM400 301h3v3h-3zM427 301h3v3h-3zM432 301h6v3h-6zM442 301h3v3h-3zM448 301h3v3h-3zM452 301h3v3h-3zM462 301h3v3h-3zM498 301h3v3h-3zM505 301h3v3h-3zM153 304h3v3h-3zM160 304h9v3h-9zM173 304h3v3h-3zM186 304h6v3h-6zM196 304h3v3h-3zM222 304h3v3h-3zM229 304h3v3h-3zM242 304h3v3h-3zM259 304h3v3h-3zM265 304h6v3h-6zM275 304h3v3h-3zM282 304h6v3h-6zM295 304h6v3h-6zM308 304h6v3h-6zM315 304h3v3h-3zM321 304h3v3h-3zM328 304h9v3h-9zM338 304h3v3h-3zM357 304h3v3h-3zM400 304h3v3h-3zM430 304h3v3h-3zM432 304h6v3h-6zM442 304h3v3h-3zM452 304h9v3h-9zM462 304h3v3h-3zM488 304h3v3h-3zM495 304h3v3h-3zM153 308h3v3h-3zM173 308h6v3h-6zM189 308h3v3h-3zM216 308h3v3h-3zM222 308h3v3h-3zM232 308h3v3h-3zM236 308h3v3h-3zM242 308h3v3h-3zM249 308h3v3h-3zM259 308h3v3h-3zM282 308h9v3h-9zM295 308h6v3h-6zM308 308h3v3h-3zM315 308h6v3h-6zM331 308h6v3h-6zM400 308h3v3h-3zM427 308h6v3h-6zM435 308h3v3h-3zM439 308h6v3h-6zM452 308h3v3h-3zM462 308h3v3h-3zM472 308h3v3h-3zM498 308h6v3h-6zM137 311h3v3h-3zM163 311h6v3h-6zM170 311h3v3h-3zM189 311h3v3h-3zM222 311h3v3h-3zM229 311h6v3h-6zM249 311h3v3h-3zM255 311h3v3h-3zM265 311h6v3h-6zM282 311h12v3h-12zM298 311h6v3h-6zM308 311h3v3h-3zM315 311h3v3h-3zM324 311h3v3h-3zM331 311h6v3h-6zM338 311h6v3h-6zM347 311h3v3h-3zM397 311h9v3h-9zM430 311h3v3h-3zM432 311h3v3h-3zM439 311h9v3h-9zM452 311h3v3h-3zM462 311h3v3h-3zM472 311h3v3h-3zM498 311h3v3h-3zM600 311h3v3h-3zM616 311h3v3h-3zM170 314h3v3h-3zM176 314h3v3h-3zM186 314h6v3h-6zM209 314h3v3h-3zM222 314h3v3h-3zM229 314h3v3h-3zM259 314h6v3h-6zM272 314h9v3h-9zM282 314h6v3h-6zM291 314h3v3h-3zM298 314h6v3h-6zM308 314h3v3h-3zM315 314h6v3h-6zM324 314h3v3h-3zM331 314h6v3h-6zM338 314h6v3h-6zM397 314h9v3h-9zM427 314h3v3h-3zM435 314h3v3h-3zM448 314h3v3h-3zM452 314h3v3h-3zM462 314h3v3h-3zM468 314h3v3h-3zM472 314h3v3h-3zM488 314h3v3h-3zM639 314h3v3h-3zM153 317h3v3h-3zM163 317h6v3h-6zM176 317h3v3h-3zM186 317h3v3h-3zM212 317h3v3h-3zM222 317h3v3h-3zM229 317h3v3h-3zM242 317h3v3h-3zM265 317h6v3h-6zM275 317h6v3h-6zM285 317h9v3h-9zM295 317h3v3h-3zM301 317h3v3h-3zM308 317h6v3h-6zM315 317h3v3h-3zM321 317h6v3h-6zM331 317h6v3h-6zM338 317h3v3h-3zM370 317h3v3h-3zM397 317h9v3h-9zM427 317h6v3h-6zM435 317h3v3h-3zM439 317h9v3h-9zM452 317h3v3h-3zM462 317h3v3h-3zM468 317h3v3h-3zM472 317h6v3h-6zM163 321h6v3h-6zM170 321h3v3h-3zM186 321h3v3h-3zM222 321h3v3h-3zM229 321h3v3h-3zM242 321h3v3h-3zM259 321h3v3h-3zM268 321h3v3h-3zM278 321h3v3h-3zM282 321h12v3h-12zM295 321h3v3h-3zM301 321h3v3h-3zM305 321h9v3h-9zM315 321h12v3h-12zM331 321h6v3h-6zM341 321h3v3h-3zM374 321h3v3h-3zM397 321h9v3h-9zM427 321h6v3h-6zM432 321h3v3h-3zM439 321h3v3h-3zM445 321h3v3h-3zM452 321h3v3h-3zM468 321h3v3h-3zM472 321h6v3h-6zM153 324h3v3h-3zM166 324h3v3h-3zM170 324h3v3h-3zM186 324h3v3h-3zM222 324h3v3h-3zM229 324h6v3h-6zM239 324h9v3h-9zM252 324h3v3h-3zM268 324h3v3h-3zM272 324h3v3h-3zM282 324h12v3h-12zM295 324h9v3h-9zM305 324h9v3h-9zM315 324h12v3h-12zM331 324h6v3h-6zM341 324h3v3h-3zM347 324h3v3h-3zM374 324h3v3h-3zM384 324h3v3h-3zM397 324h9v3h-9zM410 324h3v3h-3zM427 324h3v3h-3zM435 324h3v3h-3zM442 324h6v3h-6zM452 324h6v3h-6zM465 324h3v3h-3zM472 324h3v3h-3zM639 324h3v3h-3zM153 327h3v3h-3zM173 327h3v3h-3zM186 327h3v3h-3zM196 327h3v3h-3zM203 327h3v3h-3zM216 327h3v3h-3zM222 327h3v3h-3zM226 327h3v3h-3zM242 327h3v3h-3zM252 327h3v3h-3zM262 327h3v3h-3zM268 327h3v3h-3zM275 327h3v3h-3zM282 327h12v3h-12zM298 327h3v3h-3zM308 327h6v3h-6zM318 327h6v3h-6zM331 327h6v3h-6zM341 327h3v3h-3zM374 327h3v3h-3zM394 327h3v3h-3zM400 327h6v3h-6zM427 327h6v3h-6zM432 327h3v3h-3zM439 327h9v3h-9zM452 327h6v3h-6zM472 327h3v3h-3zM501 327h3v3h-3zM150 331h6v3h-6zM160 331h3v3h-3zM166 331h3v3h-3zM186 331h3v3h-3zM203 331h3v3h-3zM222 331h3v3h-3zM229 331h3v3h-3zM242 331h3v3h-3zM249 331h6v3h-6zM259 331h3v3h-3zM268 331h3v3h-3zM272 331h9v3h-9zM285 331h9v3h-9zM301 331h3v3h-3zM305 331h9v3h-9zM315 331h3v3h-3zM321 331h6v3h-6zM328 331h9v3h-9zM341 331h3v3h-3zM361 331h3v3h-3zM374 331h3v3h-3zM380 331h3v3h-3zM384 331h3v3h-3zM394 331h12v3h-12zM427 331h6v3h-6zM435 331h3v3h-3zM445 331h6v3h-6zM462 331h3v3h-3zM468 331h3v3h-3zM501 331h3v3h-3zM639 331h3v3h-3zM153 334h3v3h-3zM163 334h3v3h-3zM173 334h3v3h-3zM189 334h3v3h-3zM193 334h3v3h-3zM222 334h3v3h-3zM229 334h3v3h-3zM239 334h6v3h-6zM255 334h3v3h-3zM265 334h6v3h-6zM272 334h9v3h-9zM285 334h9v3h-9zM298 334h6v3h-6zM305 334h3v3h-3zM311 334h3v3h-3zM315 334h12v3h-12zM331 334h6v3h-6zM341 334h3v3h-3zM347 334h3v3h-3zM374 334h3v3h-3zM397 334h9v3h-9zM407 334h3v3h-3zM413 334h3v3h-3zM430 334h3v3h-3zM445 334h6v3h-6zM452 334h6v3h-6zM501 334h3v3h-3zM639 334h3v3h-3zM163 337h3v3h-3zM173 337h3v3h-3zM186 337h6v3h-6zM196 337h3v3h-3zM222 337h3v3h-3zM242 337h3v3h-3zM249 337h3v3h-3zM255 337h3v3h-3zM259 337h12v3h-12zM275 337h6v3h-6zM282 337h12v3h-12zM295 337h9v3h-9zM305 337h9v3h-9zM315 337h9v3h-9zM331 337h6v3h-6zM341 337h3v3h-3zM374 337h3v3h-3zM394 337h12v3h-12zM413 337h3v3h-3zM427 337h3v3h-3zM432 337h3v3h-3zM439 337h3v3h-3zM445 337h3v3h-3zM455 337h3v3h-3zM462 337h3v3h-3zM468 337h3v3h-3zM472 337h6v3h-6zM153 339h3v3h-3zM170 339h6v3h-6zM189 339h3v3h-3zM203 339h3v3h-3zM209 339h3v3h-3zM216 339h3v3h-3zM222 339h3v3h-3zM229 339h3v3h-3zM236 339h3v3h-3zM242 339h3v3h-3zM252 339h3v3h-3zM259 339h3v3h-3zM265 339h6v3h-6zM272 339h6v3h-6zM282 339h12v3h-12zM295 339h9v3h-9zM305 339h9v3h-9zM318 339h6v3h-6zM328 339h9v3h-9zM341 339h3v3h-3zM357 339h3v3h-3zM374 339h3v3h-3zM394 339h6v3h-6zM403 339h3v3h-3zM407 339h3v3h-3zM413 339h3v3h-3zM417 339h3v3h-3zM430 339h3v3h-3zM442 339h3v3h-3zM455 339h3v3h-3zM462 339h3v3h-3zM501 339h3v3h-3zM505 339h3v3h-3zM639 339h3v3h-3zM166 343h3v3h-3zM173 343h3v3h-3zM180 343h3v3h-3zM186 343h3v3h-3zM196 343h3v3h-3zM203 343h3v3h-3zM209 343h3v3h-3zM219 343h6v3h-6zM226 343h9v3h-9zM236 343h12v3h-12zM252 343h3v3h-3zM262 343h6v3h-6zM272 343h6v3h-6zM285 343h9v3h-9zM295 343h9v3h-9zM305 343h3v3h-3zM311 343h3v3h-3zM318 343h9v3h-9zM328 343h9v3h-9zM357 343h3v3h-3zM361 343h3v3h-3zM374 343h3v3h-3zM387 343h6v3h-6zM394 343h12v3h-12zM413 343h3v3h-3zM439 343h3v3h-3zM448 343h3v3h-3zM455 343h3v3h-3zM462 343h3v3h-3zM472 343h3v3h-3zM501 343h3v3h-3zM505 343h3v3h-3zM163 346h6v3h-6zM170 346h6v3h-6zM186 346h3v3h-3zM203 346h3v3h-3zM212 346h3v3h-3zM222 346h3v3h-3zM236 346h3v3h-3zM242 346h6v3h-6zM249 346h3v3h-3zM255 346h3v3h-3zM259 346h6v3h-6zM268 346h3v3h-3zM272 346h6v3h-6zM282 346h12v3h-12zM295 346h6v3h-6zM305 346h9v3h-9zM315 346h6v3h-6zM324 346h3v3h-3zM328 346h9v3h-9zM341 346h3v3h-3zM357 346h3v3h-3zM361 346h3v3h-3zM374 346h6v3h-6zM387 346h6v3h-6zM394 346h9v3h-9zM407 346h3v3h-3zM427 346h6v3h-6zM445 346h6v3h-6zM455 346h6v3h-6zM462 346h3v3h-3zM472 346h3v3h-3zM649 346h3v3h-3zM160 349h3v3h-3zM186 349h6v3h-6zM196 349h3v3h-3zM216 349h3v3h-3zM229 349h6v3h-6zM236 349h3v3h-3zM242 349h3v3h-3zM249 349h3v3h-3zM255 349h3v3h-3zM259 349h12v3h-12zM275 349h3v3h-3zM285 349h6v3h-6zM295 349h9v3h-9zM305 349h6v3h-6zM324 349h3v3h-3zM331 349h6v3h-6zM361 349h3v3h-3zM370 349h3v3h-3zM374 349h3v3h-3zM387 349h3v3h-3zM394 349h3v3h-3zM403 349h3v3h-3zM407 349h9v3h-9zM417 349h6v3h-6zM427 349h6v3h-6zM445 349h6v3h-6zM455 349h3v3h-3zM501 349h3v3h-3zM528 349h3v3h-3zM153 353h3v3h-3zM163 353h6v3h-6zM180 353h3v3h-3zM186 353h3v3h-3zM222 353h3v3h-3zM229 353h6v3h-6zM239 353h3v3h-3zM245 353h3v3h-3zM249 353h9v3h-9zM259 353h12v3h-12zM272 353h6v3h-6zM291 353h3v3h-3zM295 353h6v3h-6zM305 353h9v3h-9zM324 353h3v3h-3zM328 353h9v3h-9zM341 353h3v3h-3zM347 353h3v3h-3zM361 353h3v3h-3zM370 353h3v3h-3zM377 353h3v3h-3zM387 353h6v3h-6zM403 353h3v3h-3zM407 353h6v3h-6zM417 353h6v3h-6zM439 353h3v3h-3zM445 353h6v3h-6zM455 353h3v3h-3zM462 353h3v3h-3zM472 353h6v3h-6zM501 353h3v3h-3zM153 356h3v3h-3zM160 356h9v3h-9zM180 356h3v3h-3zM186 356h6v3h-6zM203 356h3v3h-3zM229 356h6v3h-6zM236 356h3v3h-3zM242 356h6v3h-6zM252 356h6v3h-6zM259 356h12v3h-12zM272 356h6v3h-6zM288 356h3v3h-3zM298 356h3v3h-3zM305 356h6v3h-6zM328 356h9v3h-9zM344 356h3v3h-3zM361 356h6v3h-6zM370 356h3v3h-3zM374 356h6v3h-6zM387 356h6v3h-6zM400 356h3v3h-3zM407 356h6v3h-6zM417 356h9v3h-9zM435 356h3v3h-3zM439 356h3v3h-3zM448 356h3v3h-3zM143 359h3v3h-3zM153 359h3v3h-3zM160 359h6v3h-6zM170 359h3v3h-3zM180 359h12v3h-12zM196 359h3v3h-3zM219 359h6v3h-6zM226 359h9v3h-9zM236 359h3v3h-3zM242 359h6v3h-6zM252 359h6v3h-6zM259 359h12v3h-12zM272 359h9v3h-9zM295 359h9v3h-9zM305 359h6v3h-6zM318 359h3v3h-3zM331 359h6v3h-6zM344 359h3v3h-3zM357 359h3v3h-3zM361 359h6v3h-6zM374 359h3v3h-3zM387 359h6v3h-6zM394 359h3v3h-3zM403 359h3v3h-3zM407 359h6v3h-6zM417 359h9v3h-9zM448 359h3v3h-3zM455 359h3v3h-3zM462 359h3v3h-3zM600 359h3v3h-3zM153 362h3v3h-3zM160 362h9v3h-9zM170 362h6v3h-6zM180 362h3v3h-3zM186 362h6v3h-6zM193 362h3v3h-3zM203 362h3v3h-3zM216 362h9v3h-9zM229 362h6v3h-6zM236 362h6v3h-6zM245 362h3v3h-3zM252 362h6v3h-6zM259 362h12v3h-12zM272 362h3v3h-3zM295 362h9v3h-9zM305 362h6v3h-6zM328 362h9v3h-9zM341 362h9v3h-9zM361 362h12v3h-12zM374 362h3v3h-3zM387 362h6v3h-6zM394 362h3v3h-3zM400 362h6v3h-6zM407 362h6v3h-6zM417 362h6v3h-6zM455 362h3v3h-3zM639 362h3v3h-3zM153 366h3v3h-3zM160 366h3v3h-3zM166 366h3v3h-3zM170 366h3v3h-3zM176 366h3v3h-3zM180 366h3v3h-3zM199 366h3v3h-3zM203 366h3v3h-3zM209 366h3v3h-3zM219 366h6v3h-6zM226 366h9v3h-9zM239 366h3v3h-3zM245 366h3v3h-3zM249 366h9v3h-9zM259 366h12v3h-12zM272 366h6v3h-6zM295 366h3v3h-3zM301 366h3v3h-3zM305 366h6v3h-6zM324 366h3v3h-3zM328 366h6v3h-6zM344 366h3v3h-3zM354 366h6v3h-6zM367 366h6v3h-6zM374 366h3v3h-3zM387 366h6v3h-6zM394 366h12v3h-12zM407 366h6v3h-6zM417 366h9v3h-9zM455 366h3v3h-3zM501 366h3v3h-3zM639 366h3v3h-3zM153 369h3v3h-3zM160 369h9v3h-9zM180 369h3v3h-3zM186 369h3v3h-3zM203 369h6v3h-6zM216 369h9v3h-9zM239 369h3v3h-3zM245 369h3v3h-3zM252 369h6v3h-6zM259 369h6v3h-6zM272 369h6v3h-6zM301 369h3v3h-3zM328 369h6v3h-6zM354 369h6v3h-6zM361 369h6v3h-6zM370 369h3v3h-3zM377 369h6v3h-6zM384 369h3v3h-3zM390 369h3v3h-3zM397 369h3v3h-3zM410 369h3v3h-3zM420 369h3v3h-3zM430 369h3v3h-3zM455 369h3v3h-3zM643 369h3v3h-3zM140 372h3v3h-3zM153 372h3v3h-3zM160 372h6v3h-6zM170 372h3v3h-3zM186 372h3v3h-3zM196 372h3v3h-3zM203 372h9v3h-9zM216 372h9v3h-9zM226 372h3v3h-3zM239 372h3v3h-3zM245 372h3v3h-3zM252 372h3v3h-3zM262 372h3v3h-3zM268 372h3v3h-3zM295 372h3v3h-3zM301 372h3v3h-3zM308 372h3v3h-3zM328 372h6v3h-6zM347 372h3v3h-3zM354 372h6v3h-6zM364 372h9v3h-9zM377 372h6v3h-6zM390 372h3v3h-3zM394 372h9v3h-9zM410 372h3v3h-3zM420 372h3v3h-3zM452 372h3v3h-3zM468 372h3v3h-3zM472 372h3v3h-3zM153 376h3v3h-3zM170 376h3v3h-3zM193 376h3v3h-3zM199 376h3v3h-3zM203 376h6v3h-6zM219 376h6v3h-6zM226 376h3v3h-3zM245 376h3v3h-3zM252 376h3v3h-3zM259 376h3v3h-3zM268 376h3v3h-3zM272 376h6v3h-6zM295 376h3v3h-3zM328 376h9v3h-9zM347 376h3v3h-3zM354 376h6v3h-6zM361 376h3v3h-3zM367 376h3v3h-3zM377 376h6v3h-6zM387 376h3v3h-3zM394 376h6v3h-6zM410 376h3v3h-3zM417 376h6v3h-6zM468 376h3v3h-3zM472 376h3v3h-3zM643 376h3v3h-3zM153 379h3v3h-3zM157 379h3v3h-3zM166 379h3v3h-3zM170 379h3v3h-3zM186 379h3v3h-3zM203 379h6v3h-6zM212 379h3v3h-3zM216 379h3v3h-3zM226 379h3v3h-3zM239 379h3v3h-3zM245 379h3v3h-3zM252 379h3v3h-3zM272 379h6v3h-6zM295 379h3v3h-3zM328 379h9v3h-9zM354 379h3v3h-3zM361 379h3v3h-3zM367 379h3v3h-3zM377 379h6v3h-6zM387 379h3v3h-3zM397 379h3v3h-3zM410 379h6v3h-6zM420 379h3v3h-3zM448 379h3v3h-3zM452 379h3v3h-3zM472 379h3v3h-3zM639 379h3v3h-3zM643 379h3v3h-3zM180 382h3v3h-3zM186 382h6v3h-6zM203 382h6v3h-6zM216 382h9v3h-9zM226 382h3v3h-3zM239 382h3v3h-3zM245 382h3v3h-3zM252 382h3v3h-3zM259 382h6v3h-6zM275 382h3v3h-3zM328 382h6v3h-6zM344 382h6v3h-6zM354 382h3v3h-3zM361 382h3v3h-3zM370 382h3v3h-3zM380 382h3v3h-3zM384 382h3v3h-3zM397 382h6v3h-6zM410 382h3v3h-3zM420 382h3v3h-3zM445 382h6v3h-6zM452 382h3v3h-3zM472 382h3v3h-3zM639 382h3v3h-3zM643 382h3v3h-3zM143 385h3v3h-3zM166 385h3v3h-3zM170 385h3v3h-3zM180 385h3v3h-3zM186 385h6v3h-6zM193 385h3v3h-3zM203 385h6v3h-6zM219 385h3v3h-3zM226 385h3v3h-3zM239 385h3v3h-3zM245 385h3v3h-3zM272 385h6v3h-6zM295 385h3v3h-3zM305 385h6v3h-6zM328 385h9v3h-9zM341 385h9v3h-9zM351 385h6v3h-6zM367 385h6v3h-6zM377 385h3v3h-3zM387 385h3v3h-3zM394 385h9v3h-9zM410 385h3v3h-3zM420 385h3v3h-3zM448 385h3v3h-3zM458 385h3v3h-3zM472 385h3v3h-3zM153 389h3v3h-3zM160 389h9v3h-9zM170 389h3v3h-3zM176 389h3v3h-3zM180 389h3v3h-3zM186 389h6v3h-6zM203 389h3v3h-3zM209 389h6v3h-6zM216 389h3v3h-3zM222 389h3v3h-3zM252 389h6v3h-6zM265 389h3v3h-3zM272 389h3v3h-3zM295 389h3v3h-3zM328 389h3v3h-3zM334 389h3v3h-3zM341 389h9v3h-9zM351 389h3v3h-3zM361 389h3v3h-3zM370 389h3v3h-3zM380 389h3v3h-3zM390 389h3v3h-3zM394 389h9v3h-9zM410 389h3v3h-3zM417 389h3v3h-3zM452 389h3v3h-3zM468 389h3v3h-3zM472 389h3v3h-3zM639 389h3v3h-3zM153 392h3v3h-3zM160 392h9v3h-9zM170 392h3v3h-3zM186 392h3v3h-3zM199 392h3v3h-3zM203 392h12v3h-12zM219 392h6v3h-6zM226 392h3v3h-3zM239 392h3v3h-3zM245 392h3v3h-3zM259 392h3v3h-3zM295 392h3v3h-3zM324 392h3v3h-3zM328 392h9v3h-9zM344 392h3v3h-3zM354 392h3v3h-3zM367 392h3v3h-3zM380 392h3v3h-3zM384 392h3v3h-3zM390 392h3v3h-3zM394 392h3v3h-3zM410 392h3v3h-3zM417 392h3v3h-3zM452 392h3v3h-3zM472 392h3v3h-3zM153 395h3v3h-3zM160 395h9v3h-9zM176 395h3v3h-3zM180 395h3v3h-3zM196 395h6v3h-6zM203 395h6v3h-6zM212 395h3v3h-3zM216 395h9v3h-9zM226 395h3v3h-3zM239 395h3v3h-3zM262 395h3v3h-3zM272 395h6v3h-6zM295 395h3v3h-3zM305 395h3v3h-3zM324 395h3v3h-3zM331 395h3v3h-3zM347 395h3v3h-3zM351 395h6v3h-6zM377 395h3v3h-3zM394 395h6v3h-6zM452 395h3v3h-3zM472 395h3v3h-3zM153 399h3v3h-3zM163 399h6v3h-6zM170 399h3v3h-3zM180 399h3v3h-3zM186 399h6v3h-6zM199 399h3v3h-3zM203 399h12v3h-12zM216 399h3v3h-3zM222 399h3v3h-3zM226 399h3v3h-3zM308 399h3v3h-3zM324 399h3v3h-3zM328 399h9v3h-9zM341 399h3v3h-3zM347 399h3v3h-3zM351 399h6v3h-6zM367 399h6v3h-6zM377 399h6v3h-6zM384 399h9v3h-9zM400 399h3v3h-3zM407 399h6v3h-6zM452 399h3v3h-3zM468 399h3v3h-3zM472 399h3v3h-3zM147 402h3v3h-3zM153 402h3v3h-3zM160 402h9v3h-9zM170 402h3v3h-3zM180 402h3v3h-3zM186 402h3v3h-3zM193 402h3v3h-3zM199 402h3v3h-3zM209 402h6v3h-6zM216 402h9v3h-9zM226 402h3v3h-3zM295 402h3v3h-3zM305 402h3v3h-3zM321 402h6v3h-6zM328 402h9v3h-9zM341 402h6v3h-6zM367 402h6v3h-6zM380 402h3v3h-3zM394 402h6v3h-6zM452 402h3v3h-3zM140 405h3v3h-3zM160 405h3v3h-3zM166 405h3v3h-3zM170 405h3v3h-3zM186 405h3v3h-3zM196 405h6v3h-6zM203 405h6v3h-6zM212 405h3v3h-3zM216 405h3v3h-3zM226 405h3v3h-3zM308 405h3v3h-3zM324 405h3v3h-3zM331 405h3v3h-3zM338 405h6v3h-6zM351 405h6v3h-6zM367 405h3v3h-3zM377 405h3v3h-3zM384 405h3v3h-3zM410 405h3v3h-3zM417 405h3v3h-3zM472 405h3v3h-3zM94 408h3v3h-3zM147 408h3v3h-3zM153 408h3v3h-3zM160 408h9v3h-9zM170 408h3v3h-3zM180 408h6v3h-6zM196 408h3v3h-3zM203 408h12v3h-12zM216 408h9v3h-9zM308 408h3v3h-3zM321 408h6v3h-6zM331 408h3v3h-3zM338 408h3v3h-3zM377 408h3v3h-3zM472 408h3v3h-3zM639 408h3v3h-3zM140 412h3v3h-3zM153 412h3v3h-3zM160 412h9v3h-9zM170 412h3v3h-3zM176 412h3v3h-3zM180 412h12v3h-12zM199 412h3v3h-3zM203 412h6v3h-6zM212 412h3v3h-3zM216 412h6v3h-6zM226 412h3v3h-3zM305 412h3v3h-3zM311 412h3v3h-3zM321 412h6v3h-6zM331 412h3v3h-3zM338 412h3v3h-3zM351 412h3v3h-3zM370 412h3v3h-3zM397 412h3v3h-3zM468 412h3v3h-3zM472 412h3v3h-3zM153 415h3v3h-3zM160 415h9v3h-9zM170 415h3v3h-3zM180 415h3v3h-3zM186 415h6v3h-6zM193 415h3v3h-3zM199 415h3v3h-3zM203 415h9v3h-9zM216 415h6v3h-6zM295 415h3v3h-3zM318 415h3v3h-3zM338 415h3v3h-3zM347 415h3v3h-3zM351 415h3v3h-3zM370 415h3v3h-3zM380 415h3v3h-3zM417 415h3v3h-3zM468 415h3v3h-3zM472 415h3v3h-3zM143 418h3v3h-3zM153 418h3v3h-3zM160 418h6v3h-6zM170 418h3v3h-3zM176 418h3v3h-3zM180 418h12v3h-12zM193 418h3v3h-3zM206 418h6v3h-6zM216 418h3v3h-3zM295 418h3v3h-3zM301 418h3v3h-3zM305 418h3v3h-3zM318 418h3v3h-3zM324 418h3v3h-3zM338 418h3v3h-3zM367 418h3v3h-3zM384 418h3v3h-3zM390 418h3v3h-3zM452 418h3v3h-3zM153 422h3v3h-3zM163 422h6v3h-6zM170 422h9v3h-9zM186 422h6v3h-6zM199 422h3v3h-3zM203 422h6v3h-6zM212 422h3v3h-3zM295 422h3v3h-3zM305 422h3v3h-3zM318 422h3v3h-3zM344 422h3v3h-3zM380 422h3v3h-3zM410 422h3v3h-3zM417 422h3v3h-3zM472 422h3v3h-3zM639 422h3v3h-3zM140 425h3v3h-3zM150 425h6v3h-6zM160 425h6v3h-6zM170 425h9v3h-9zM183 425h6v3h-6zM203 425h9v3h-9zM272 425h3v3h-3zM298 425h6v3h-6zM305 425h9v3h-9zM334 425h3v3h-3zM338 425h3v3h-3zM367 425h3v3h-3zM384 425h3v3h-3zM417 425h3v3h-3zM468 425h3v3h-3zM472 425h3v3h-3zM639 425h3v3h-3zM137 428h6v3h-6zM150 428h6v3h-6zM160 428h9v3h-9zM170 428h3v3h-3zM176 428h3v3h-3zM180 428h12v3h-12zM199 428h3v3h-3zM206 428h3v3h-3zM212 428h3v3h-3zM272 428h3v3h-3zM291 428h3v3h-3zM295 428h9v3h-9zM305 428h3v3h-3zM311 428h3v3h-3zM324 428h3v3h-3zM338 428h3v3h-3zM344 428h3v3h-3zM367 428h3v3h-3zM380 428h3v3h-3zM384 428h3v3h-3zM452 428h3v3h-3zM140 431h3v3h-3zM150 431h6v3h-6zM160 431h9v3h-9zM170 431h3v3h-3zM180 431h3v3h-3zM186 431h6v3h-6zM193 431h6v3h-6zM203 431h3v3h-3zM209 431h6v3h-6zM298 431h6v3h-6zM305 431h3v3h-3zM311 431h3v3h-3zM318 431h3v3h-3zM324 431h3v3h-3zM410 431h3v3h-3zM468 431h3v3h-3zM472 431h6v3h-6zM137 435h6v3h-6zM160 435h9v3h-9zM170 435h3v3h-3zM176 435h3v3h-3zM180 435h3v3h-3zM189 435h3v3h-3zM193 435h3v3h-3zM203 435h12v3h-12zM272 435h3v3h-3zM278 435h3v3h-3zM285 435h6v3h-6zM298 435h6v3h-6zM305 435h3v3h-3zM311 435h3v3h-3zM341 435h3v3h-3zM377 435h6v3h-6zM410 435h3v3h-3zM468 435h3v3h-3zM472 435h3v3h-3zM147 438h9v3h-9zM163 438h6v3h-6zM170 438h9v3h-9zM180 438h3v3h-3zM186 438h6v3h-6zM196 438h3v3h-3zM203 438h3v3h-3zM209 438h6v3h-6zM219 438h3v3h-3zM259 438h3v3h-3zM272 438h3v3h-3zM288 438h3v3h-3zM305 438h3v3h-3zM311 438h3v3h-3zM318 438h3v3h-3zM334 438h3v3h-3zM380 438h3v3h-3zM410 438h3v3h-3zM468 438h3v3h-3zM153 441h3v3h-3zM163 441h3v3h-3zM170 441h9v3h-9zM186 441h6v3h-6zM193 441h6v3h-6zM203 441h3v3h-3zM209 441h6v3h-6zM219 441h3v3h-3zM259 441h3v3h-3zM272 441h3v3h-3zM288 441h3v3h-3zM298 441h3v3h-3zM305 441h9v3h-9zM324 441h3v3h-3zM334 441h3v3h-3zM338 441h3v3h-3zM150 445h6v3h-6zM160 445h6v3h-6zM170 445h6v3h-6zM180 445h12v3h-12zM193 445h6v3h-6zM203 445h12v3h-12zM259 445h3v3h-3zM272 445h3v3h-3zM288 445h3v3h-3zM295 445h6v3h-6zM311 445h3v3h-3zM318 445h9v3h-9zM338 445h3v3h-3zM380 445h3v3h-3zM384 445h3v3h-3zM410 445h3v3h-3zM430 445h3v3h-3zM153 448h3v3h-3zM160 448h9v3h-9zM170 448h9v3h-9zM180 448h12v3h-12zM196 448h6v3h-6zM206 448h9v3h-9zM216 448h6v3h-6zM245 448h3v3h-3zM249 448h3v3h-3zM255 448h3v3h-3zM259 448h6v3h-6zM272 448h9v3h-9zM285 448h9v3h-9zM298 448h6v3h-6zM311 448h3v3h-3zM321 448h3v3h-3zM367 448h3v3h-3zM475 448h3v3h-3zM150 451h6v3h-6zM160 451h9v3h-9zM170 451h6v3h-6zM180 451h12v3h-12zM193 451h3v3h-3zM199 451h3v3h-3zM212 451h3v3h-3zM216 451h6v3h-6zM226 451h3v3h-3zM249 451h9v3h-9zM262 451h3v3h-3zM272 451h9v3h-9zM285 451h6v3h-6zM295 451h9v3h-9zM305 451h9v3h-9zM318 451h6v3h-6zM338 451h3v3h-3zM452 451h3v3h-3zM140 454h3v3h-3zM150 454h3v3h-3zM160 454h9v3h-9zM170 454h6v3h-6zM180 454h12v3h-12zM193 454h9v3h-9zM206 454h9v3h-9zM216 454h9v3h-9zM226 454h3v3h-3zM245 454h3v3h-3zM252 454h6v3h-6zM272 454h9v3h-9zM285 454h9v3h-9zM295 454h6v3h-6zM315 454h3v3h-3zM321 454h3v3h-3zM377 454h6v3h-6zM397 454h3v3h-3zM410 454h3v3h-3zM147 458h3v3h-3zM153 458h3v3h-3zM160 458h6v3h-6zM170 458h6v3h-6zM180 458h12v3h-12zM193 458h6v3h-6zM206 458h9v3h-9zM216 458h9v3h-9zM226 458h3v3h-3zM236 458h3v3h-3zM245 458h3v3h-3zM249 458h3v3h-3zM255 458h3v3h-3zM259 458h6v3h-6zM272 458h9v3h-9zM282 458h3v3h-3zM291 458h3v3h-3zM295 458h6v3h-6zM305 458h3v3h-3zM311 458h3v3h-3zM321 458h3v3h-3zM338 458h3v3h-3zM351 458h3v3h-3zM367 458h3v3h-3zM420 458h3v3h-3zM160 461h9v3h-9zM170 461h6v3h-6zM183 461h9v3h-9zM196 461h6v3h-6zM206 461h9v3h-9zM216 461h9v3h-9zM226 461h3v3h-3zM232 461h3v3h-3zM236 461h3v3h-3zM242 461h3v3h-3zM249 461h9v3h-9zM268 461h3v3h-3zM275 461h6v3h-6zM285 461h3v3h-3zM291 461h3v3h-3zM295 461h6v3h-6zM315 461h3v3h-3zM321 461h3v3h-3zM140 464h3v3h-3zM150 464h3v3h-3zM160 464h9v3h-9zM170 464h6v3h-6zM180 464h12v3h-12zM193 464h9v3h-9zM206 464h3v3h-3zM212 464h3v3h-3zM216 464h9v3h-9zM226 464h3v3h-3zM232 464h3v3h-3zM236 464h3v3h-3zM242 464h6v3h-6zM249 464h6v3h-6zM259 464h6v3h-6zM272 464h6v3h-6zM305 464h6v3h-6zM341 464h3v3h-3zM394 464h3v3h-3zM147 468h3v3h-3zM153 468h3v3h-3zM157 468h9v3h-9zM170 468h6v3h-6zM180 468h6v3h-6zM189 468h3v3h-3zM193 468h9v3h-9zM206 468h3v3h-3zM212 468h3v3h-3zM216 468h9v3h-9zM226 468h3v3h-3zM232 468h3v3h-3zM236 468h3v3h-3zM242 468h6v3h-6zM249 468h3v3h-3zM255 468h3v3h-3zM259 468h3v3h-3zM268 468h3v3h-3zM288 468h3v3h-3zM305 468h3v3h-3zM315 468h3v3h-3zM394 468h3v3h-3zM140 471h3v3h-3zM150 471h3v3h-3zM160 471h9v3h-9zM170 471h6v3h-6zM180 471h6v3h-6zM193 471h3v3h-3zM199 471h3v3h-3zM206 471h9v3h-9zM216 471h3v3h-3zM236 471h3v3h-3zM242 471h6v3h-6zM249 471h3v3h-3zM255 471h3v3h-3zM259 471h6v3h-6zM268 471h3v3h-3zM278 471h3v3h-3zM282 471h3v3h-3zM305 471h3v3h-3zM315 471h3v3h-3zM472 471h3v3h-3zM659 471h3v3h-3zM143 474h3v3h-3zM160 474h9v3h-9zM170 474h6v3h-6zM183 474h3v3h-3zM193 474h9v3h-9zM206 474h9v3h-9zM216 474h6v3h-6zM236 474h3v3h-3zM245 474h3v3h-3zM249 474h9v3h-9zM291 474h3v3h-3zM295 474h3v3h-3zM315 474h3v3h-3zM321 474h3v3h-3zM394 474h3v3h-3zM659 474h3v3h-3zM153 477h3v3h-3zM160 477h9v3h-9zM170 477h9v3h-9zM193 477h9v3h-9zM206 477h3v3h-3zM219 477h3v3h-3zM236 477h3v3h-3zM242 477h6v3h-6zM249 477h6v3h-6zM282 477h3v3h-3zM295 477h6v3h-6zM394 477h3v3h-3zM140 481h3v3h-3zM160 481h6v3h-6zM170 481h6v3h-6zM183 481h3v3h-3zM236 481h3v3h-3zM242 481h6v3h-6zM249 481h6v3h-6zM275 481h3v3h-3zM282 481h6v3h-6zM298 481h3v3h-3zM315 481h3v3h-3zM321 481h3v3h-3zM334 481h3v3h-3zM420 481h3v3h-3zM472 481h3v3h-3zM140 484h3v3h-3zM147 484h9v3h-9zM160 484h6v3h-6zM176 484h3v3h-3zM242 484h6v3h-6zM252 484h6v3h-6zM259 484h12v3h-12zM272 484h6v3h-6zM282 484h6v3h-6zM334 484h3v3h-3zM338 484h3v3h-3zM351 484h3v3h-3zM137 487h3v3h-3zM143 487h3v3h-3zM150 487h3v3h-3zM160 487h6v3h-6zM242 487h6v3h-6zM249 487h3v3h-3zM262 487h6v3h-6zM272 487h6v3h-6zM282 487h9v3h-9zM298 487h3v3h-3zM308 487h3v3h-3zM315 487h3v3h-3zM321 487h3v3h-3zM472 487h3v3h-3zM137 491h9v3h-9zM147 491h3v3h-3zM157 491h3v3h-3zM232 491h3v3h-3zM242 491h3v3h-3zM252 491h3v3h-3zM265 491h3v3h-3zM275 491h3v3h-3zM282 491h3v3h-3zM291 491h3v3h-3zM298 491h3v3h-3zM315 491h3v3h-3zM328 491h3v3h-3zM334 491h3v3h-3zM410 491h3v3h-3zM452 491h3v3h-3zM150 494h6v3h-6zM157 494h3v3h-3zM163 494h3v3h-3zM222 494h3v3h-3zM226 494h3v3h-3zM232 494h3v3h-3zM239 494h6v3h-6zM265 494h6v3h-6zM291 494h3v3h-3zM315 494h3v3h-3zM321 494h3v3h-3zM117 497h3v3h-3zM140 497h6v3h-6zM157 497h3v3h-3zM222 497h3v3h-3zM226 497h9v3h-9zM242 497h3v3h-3zM268 497h3v3h-3zM275 497h3v3h-3zM282 497h9v3h-9zM298 497h3v3h-3zM315 497h3v3h-3zM321 497h3v3h-3zM351 497h3v3h-3zM410 497h3v3h-3zM445 497h3v3h-3zM452 497h3v3h-3zM468 497h3v3h-3zM137 500h3v3h-3zM143 500h3v3h-3zM147 500h3v3h-3zM219 500h6v3h-6zM226 500h9v3h-9zM242 500h3v3h-3zM249 500h3v3h-3zM259 500h3v3h-3zM265 500h6v3h-6zM291 500h3v3h-3zM321 500h3v3h-3zM338 500h3v3h-3zM410 500h3v3h-3zM137 504h9v3h-9zM147 504h3v3h-3zM157 504h3v3h-3zM219 504h3v3h-3zM226 504h9v3h-9zM239 504h3v3h-3zM268 504h3v3h-3zM272 504h6v3h-6zM285 504h3v3h-3zM298 504h3v3h-3zM315 504h3v3h-3zM321 504h3v3h-3zM351 504h3v3h-3zM137 507h3v3h-3zM147 507h3v3h-3zM157 507h3v3h-3zM209 507h6v3h-6zM216 507h9v3h-9zM226 507h6v3h-6zM242 507h3v3h-3zM249 507h3v3h-3zM268 507h3v3h-3zM282 507h6v3h-6zM321 507h3v3h-3zM452 507h3v3h-3zM468 507h3v3h-3zM639 507h3v3h-3zM137 510h3v3h-3zM143 510h3v3h-3zM147 510h3v3h-3zM157 510h3v3h-3zM206 510h9v3h-9zM216 510h6v3h-6zM226 510h9v3h-9zM242 510h3v3h-3zM249 510h3v3h-3zM268 510h3v3h-3zM282 510h3v3h-3zM321 510h3v3h-3zM341 510h3v3h-3zM377 510h3v3h-3zM452 510h3v3h-3zM468 510h3v3h-3zM94 514h3v3h-3zM157 514h3v3h-3zM212 514h3v3h-3zM216 514h9v3h-9zM226 514h6v3h-6zM242 514h3v3h-3zM278 514h3v3h-3zM282 514h6v3h-6zM331 514h3v3h-3zM338 514h6v3h-6zM367 514h3v3h-3zM380 514h3v3h-3zM452 514h3v3h-3zM468 514h3v3h-3zM143 517h3v3h-3zM196 517h3v3h-3zM206 517h6v3h-6zM216 517h3v3h-3zM222 517h3v3h-3zM226 517h9v3h-9zM236 517h9v3h-9zM268 517h3v3h-3zM295 517h3v3h-3zM321 517h3v3h-3zM338 517h3v3h-3zM367 517h3v3h-3zM380 517h3v3h-3zM384 517h3v3h-3zM397 517h3v3h-3zM410 517h3v3h-3zM452 517h3v3h-3zM472 517h3v3h-3zM137 520h3v3h-3zM193 520h6v3h-6zM203 520h6v3h-6zM222 520h3v3h-3zM226 520h9v3h-9zM242 520h3v3h-3zM249 520h3v3h-3zM282 520h3v3h-3zM291 520h3v3h-3zM298 520h3v3h-3zM315 520h3v3h-3zM321 520h3v3h-3zM452 520h3v3h-3zM472 520h3v3h-3zM189 524h3v3h-3zM193 524h3v3h-3zM203 524h3v3h-3zM212 524h3v3h-3zM222 524h3v3h-3zM229 524h6v3h-6zM236 524h3v3h-3zM249 524h3v3h-3zM278 524h3v3h-3zM282 524h3v3h-3zM288 524h6v3h-6zM315 524h3v3h-3zM321 524h6v3h-6zM338 524h6v3h-6zM367 524h3v3h-3zM380 524h3v3h-3zM390 524h3v3h-3zM397 524h3v3h-3zM410 524h3v3h-3zM452 524h3v3h-3zM468 524h3v3h-3zM472 524h3v3h-3zM189 527h3v3h-3zM193 527h6v3h-6zM203 527h6v3h-6zM222 527h3v3h-3zM232 527h3v3h-3zM236 527h3v3h-3zM249 527h3v3h-3zM268 527h3v3h-3zM272 527h3v3h-3zM278 527h3v3h-3zM285 527h9v3h-9zM318 527h6v3h-6zM338 527h6v3h-6zM367 527h3v3h-3zM377 527h3v3h-3zM390 527h3v3h-3zM430 527h3v3h-3zM452 527h3v3h-3zM472 527h3v3h-3zM183 530h3v3h-3zM189 530h3v3h-3zM193 530h3v3h-3zM203 530h6v3h-6zM212 530h3v3h-3zM216 530h3v3h-3zM222 530h3v3h-3zM242 530h3v3h-3zM249 530h3v3h-3zM272 530h3v3h-3zM278 530h3v3h-3zM321 530h3v3h-3zM338 530h3v3h-3zM380 530h3v3h-3zM397 530h3v3h-3zM452 530h3v3h-3zM468 530h3v3h-3zM472 530h3v3h-3zM639 530h3v3h-3zM137 533h6v3h-6zM186 533h3v3h-3zM203 533h6v3h-6zM219 533h6v3h-6zM229 533h3v3h-3zM239 533h6v3h-6zM249 533h3v3h-3zM259 533h3v3h-3zM268 533h3v3h-3zM278 533h3v3h-3zM282 533h3v3h-3zM291 533h3v3h-3zM298 533h3v3h-3zM318 533h6v3h-6zM341 533h3v3h-3zM351 533h3v3h-3zM417 533h3v3h-3zM452 533h3v3h-3zM468 533h3v3h-3zM137 537h6v3h-6zM173 537h6v3h-6zM180 537h3v3h-3zM186 537h3v3h-3zM193 537h3v3h-3zM229 537h6v3h-6zM236 537h3v3h-3zM252 537h3v3h-3zM272 537h3v3h-3zM278 537h3v3h-3zM285 537h3v3h-3zM291 537h3v3h-3zM397 537h3v3h-3zM417 537h3v3h-3zM452 537h3v3h-3zM468 537h3v3h-3zM472 537h3v3h-3zM137 540h6v3h-6zM166 540h3v3h-3zM170 540h9v3h-9zM186 540h6v3h-6zM232 540h3v3h-3zM242 540h3v3h-3zM262 540h3v3h-3zM268 540h3v3h-3zM272 540h3v3h-3zM285 540h3v3h-3zM291 540h3v3h-3zM295 540h3v3h-3zM364 540h3v3h-3zM380 540h3v3h-3zM452 540h3v3h-3zM468 540h3v3h-3zM472 540h3v3h-3zM143 543h3v3h-3zM150 543h6v3h-6zM180 543h3v3h-3zM143 547h3v3h-3zM150 547h3v3h-3zM166 547h3v3h-3zM170 547h6v3h-6zM186 547h3v3h-3zM222 547h3v3h-3zM242 547h3v3h-3zM285 547h3v3h-3zM321 547h3v3h-3zM94 550h3v3h-3zM94 556h3v3h-3zM117 556h3v3h-3zM94 560h3v3h-3zM163 560h3v3h-3zM94 563h3v3h-3zM163 566h3v3h-3zM94 570h3v3h-3z"/><path fill="#80c0ff" d="M639 117h3v3h-3zM649 117h3v3h-3zM649 120h3v3h-3zM351 130h3v3h-3zM639 130h3v3h-3zM649 130h3v3h-3zM351 150h3v3h-3zM351 153h3v3h-3zM351 156h3v3h-3zM423 156h3v3h-3zM351 160h3v3h-3zM423 160h3v3h-3zM351 163h3v3h-3zM639 163h3v3h-3zM351 166h3v3h-3zM407 166h3v3h-3zM423 166h3v3h-3zM472 166h3v3h-3zM616 166h3v3h-3zM649 166h3v3h-3zM351 170h3v3h-3zM367 170h3v3h-3zM380 170h3v3h-3zM472 170h3v3h-3zM649 170h3v3h-3zM351 173h3v3h-3zM423 173h3v3h-3zM472 173h3v3h-3zM639 173h3v3h-3zM649 173h3v3h-3zM351 176h3v3h-3zM364 176h3v3h-3zM390 176h3v3h-3zM423 176h3v3h-3zM472 176h3v3h-3zM639 176h3v3h-3zM351 179h3v3h-3zM367 179h3v3h-3zM472 179h3v3h-3zM351 183h3v3h-3zM384 183h3v3h-3zM403 183h3v3h-3zM472 183h3v3h-3zM639 183h3v3h-3zM649 183h3v3h-3zM351 186h3v3h-3zM361 186h3v3h-3zM472 186h3v3h-3zM639 186h3v3h-3zM351 189h3v3h-3zM472 189h3v3h-3zM501 189h3v3h-3zM639 189h3v3h-3zM649 189h3v3h-3zM341 193h3v3h-3zM351 193h3v3h-3zM501 193h3v3h-3zM351 196h3v3h-3zM364 196h3v3h-3zM387 196h3v3h-3zM403 196h3v3h-3zM410 196h3v3h-3zM472 196h3v3h-3zM501 196h3v3h-3zM639 196h3v3h-3zM341 199h3v3h-3zM351 199h3v3h-3zM387 199h3v3h-3zM410 199h3v3h-3zM472 199h3v3h-3zM498 199h6v3h-6zM639 199h3v3h-3zM649 199h3v3h-3zM351 202h6v3h-6zM407 202h6v3h-6zM472 202h3v3h-3zM501 202h3v3h-3zM616 202h3v3h-3zM639 202h3v3h-3zM351 206h3v3h-3zM367 206h3v3h-3zM407 206h6v3h-6zM501 206h3v3h-3zM639 206h3v3h-3zM649 206h3v3h-3zM341 209h3v3h-3zM351 209h3v3h-3zM367 209h3v3h-3zM407 209h6v3h-6zM639 209h3v3h-3zM351 212h3v3h-3zM367 212h3v3h-3zM377 212h6v3h-6zM407 212h6v3h-6zM417 212h3v3h-3zM472 212h3v3h-3zM616 212h3v3h-3zM633 212h3v3h-3zM639 212h3v3h-3zM649 212h3v3h-3zM341 216h3v3h-3zM367 216h3v3h-3zM374 216h9v3h-9zM390 216h3v3h-3zM407 216h3v3h-3zM413 216h3v3h-3zM472 216h3v3h-3zM639 216h3v3h-3zM649 216h3v3h-3zM351 219h3v3h-3zM367 219h3v3h-3zM374 219h9v3h-9zM384 219h3v3h-3zM407 219h3v3h-3zM413 219h3v3h-3zM639 219h3v3h-3zM351 222h3v3h-3zM367 222h3v3h-3zM374 222h9v3h-9zM384 222h3v3h-3zM407 222h3v3h-3zM639 222h3v3h-3zM649 222h3v3h-3zM351 225h3v3h-3zM367 225h3v3h-3zM377 225h6v3h-6zM384 225h3v3h-3zM407 225h3v3h-3zM413 225h3v3h-3zM472 225h3v3h-3zM600 225h3v3h-3zM639 225h3v3h-3zM351 229h3v3h-3zM367 229h3v3h-3zM374 229h9v3h-9zM384 229h3v3h-3zM390 229h3v3h-3zM407 229h3v3h-3zM639 229h3v3h-3zM649 229h3v3h-3zM351 232h3v3h-3zM370 232h3v3h-3zM374 232h9v3h-9zM384 232h9v3h-9zM407 232h3v3h-3zM600 232h3v3h-3zM639 232h3v3h-3zM643 232h3v3h-3zM315 235h3v3h-3zM351 235h3v3h-3zM370 235h3v3h-3zM374 235h6v3h-6zM384 235h3v3h-3zM407 235h6v3h-6zM639 235h3v3h-3zM643 235h3v3h-3zM351 239h3v3h-3zM370 239h3v3h-3zM374 239h6v3h-6zM384 239h3v3h-3zM407 239h3v3h-3zM423 239h3v3h-3zM639 239h3v3h-3zM643 239h3v3h-3zM321 242h3v3h-3zM351 242h3v3h-3zM370 242h3v3h-3zM374 242h6v3h-6zM384 242h3v3h-3zM390 242h3v3h-3zM394 242h3v3h-3zM407 242h6v3h-6zM639 242h3v3h-3zM351 245h3v3h-3zM370 245h3v3h-3zM374 245h6v3h-6zM384 245h9v3h-9zM394 245h3v3h-3zM407 245h3v3h-3zM643 245h3v3h-3zM315 248h3v3h-3zM351 248h3v3h-3zM370 248h3v3h-3zM374 248h6v3h-6zM387 248h6v3h-6zM407 248h3v3h-3zM468 248h3v3h-3zM501 248h3v3h-3zM616 248h3v3h-3zM643 248h3v3h-3zM249 252h3v3h-3zM315 252h3v3h-3zM351 252h3v3h-3zM370 252h3v3h-3zM374 252h6v3h-6zM387 252h6v3h-6zM407 252h3v3h-3zM472 252h3v3h-3zM643 252h3v3h-3zM282 255h3v3h-3zM351 255h3v3h-3zM370 255h3v3h-3zM374 255h6v3h-6zM407 255h6v3h-6zM468 255h3v3h-3zM472 255h3v3h-3zM643 255h3v3h-3zM285 258h3v3h-3zM351 258h3v3h-3zM370 258h3v3h-3zM374 258h6v3h-6zM390 258h3v3h-3zM407 258h6v3h-6zM442 258h3v3h-3zM462 258h3v3h-3zM472 258h3v3h-3zM639 258h3v3h-3zM282 262h6v3h-6zM315 262h3v3h-3zM351 262h3v3h-3zM370 262h3v3h-3zM374 262h6v3h-6zM410 262h3v3h-3zM420 262h3v3h-3zM442 262h3v3h-3zM462 262h3v3h-3zM472 262h3v3h-3zM616 262h3v3h-3zM639 262h3v3h-3zM649 262h3v3h-3zM315 265h3v3h-3zM344 265h3v3h-3zM351 265h3v3h-3zM370 265h3v3h-3zM374 265h6v3h-6zM384 265h3v3h-3zM390 265h3v3h-3zM410 265h3v3h-3zM420 265h3v3h-3zM442 265h3v3h-3zM462 265h3v3h-3zM468 265h3v3h-3zM472 265h3v3h-3zM282 268h3v3h-3zM315 268h3v3h-3zM351 268h3v3h-3zM370 268h3v3h-3zM374 268h6v3h-6zM384 268h3v3h-3zM390 268h3v3h-3zM394 268h3v3h-3zM400 268h3v3h-3zM420 268h3v3h-3zM445 268h3v3h-3zM462 268h3v3h-3zM468 268h3v3h-3zM472 268h3v3h-3zM285 271h3v3h-3zM315 271h3v3h-3zM344 271h3v3h-3zM351 271h3v3h-3zM364 271h3v3h-3zM370 271h3v3h-3zM374 271h6v3h-6zM384 271h9v3h-9zM394 271h3v3h-3zM407 271h6v3h-6zM417 271h6v3h-6zM442 271h6v3h-6zM468 271h3v3h-3zM472 271h3v3h-3zM649 271h3v3h-3zM282 275h6v3h-6zM344 275h3v3h-3zM351 275h3v3h-3zM364 275h3v3h-3zM370 275h3v3h-3zM374 275h6v3h-6zM387 275h6v3h-6zM394 275h3v3h-3zM407 275h6v3h-6zM417 275h6v3h-6zM468 275h3v3h-3zM153 278h3v3h-3zM341 278h6v3h-6zM351 278h6v3h-6zM364 278h3v3h-3zM370 278h3v3h-3zM374 278h6v3h-6zM384 278h9v3h-9zM394 278h3v3h-3zM407 278h6v3h-6zM417 278h9v3h-9zM462 278h3v3h-3zM468 278h3v3h-3zM472 278h3v3h-3zM501 278h3v3h-3zM341 281h6v3h-6zM351 281h3v3h-3zM361 281h6v3h-6zM370 281h3v3h-3zM374 281h9v3h-9zM384 281h9v3h-9zM394 281h12v3h-12zM407 281h6v3h-6zM417 281h3v3h-3zM423 281h3v3h-3zM435 281h3v3h-3zM468 281h3v3h-3zM472 281h3v3h-3zM501 281h3v3h-3zM341 285h6v3h-6zM351 285h3v3h-3zM357 285h3v3h-3zM361 285h6v3h-6zM370 285h3v3h-3zM374 285h9v3h-9zM384 285h9v3h-9zM394 285h3v3h-3zM400 285h6v3h-6zM407 285h6v3h-6zM417 285h3v3h-3zM423 285h3v3h-3zM445 285h3v3h-3zM468 285h3v3h-3zM341 288h6v3h-6zM351 288h6v3h-6zM364 288h3v3h-3zM370 288h3v3h-3zM374 288h9v3h-9zM384 288h9v3h-9zM394 288h6v3h-6zM403 288h3v3h-3zM407 288h3v3h-3zM417 288h3v3h-3zM423 288h3v3h-3zM430 288h3v3h-3zM445 288h3v3h-3zM452 288h3v3h-3zM468 288h3v3h-3zM472 288h3v3h-3zM315 291h3v3h-3zM341 291h6v3h-6zM354 291h3v3h-3zM364 291h3v3h-3zM370 291h3v3h-3zM374 291h9v3h-9zM384 291h3v3h-3zM390 291h3v3h-3zM394 291h6v3h-6zM403 291h3v3h-3zM407 291h3v3h-3zM413 291h3v3h-3zM417 291h3v3h-3zM423 291h3v3h-3zM445 291h3v3h-3zM468 291h3v3h-3zM472 291h6v3h-6zM315 294h3v3h-3zM341 294h6v3h-6zM354 294h3v3h-3zM361 294h12v3h-12zM374 294h9v3h-9zM387 294h3v3h-3zM394 294h6v3h-6zM407 294h9v3h-9zM417 294h3v3h-3zM423 294h3v3h-3zM445 294h3v3h-3zM468 294h3v3h-3zM472 294h3v3h-3zM315 298h3v3h-3zM341 298h9v3h-9zM354 298h6v3h-6zM361 298h12v3h-12zM374 298h9v3h-9zM390 298h3v3h-3zM394 298h6v3h-6zM403 298h3v3h-3zM407 298h9v3h-9zM417 298h3v3h-3zM423 298h3v3h-3zM430 298h3v3h-3zM445 298h3v3h-3zM468 298h3v3h-3zM475 298h3v3h-3zM315 301h3v3h-3zM341 301h6v3h-6zM354 301h6v3h-6zM361 301h12v3h-12zM374 301h6v3h-6zM384 301h3v3h-3zM394 301h6v3h-6zM403 301h3v3h-3zM407 301h9v3h-9zM417 301h3v3h-3zM423 301h3v3h-3zM430 301h3v3h-3zM445 301h3v3h-3zM468 301h3v3h-3zM472 301h6v3h-6zM341 304h9v3h-9zM354 304h3v3h-3zM361 304h12v3h-12zM374 304h9v3h-9zM390 304h3v3h-3zM394 304h6v3h-6zM403 304h3v3h-3zM407 304h9v3h-9zM417 304h3v3h-3zM423 304h3v3h-3zM445 304h3v3h-3zM468 304h3v3h-3zM472 304h6v3h-6zM338 308h12v3h-12zM354 308h6v3h-6zM361 308h12v3h-12zM374 308h9v3h-9zM384 308h9v3h-9zM394 308h6v3h-6zM403 308h3v3h-3zM407 308h9v3h-9zM417 308h3v3h-3zM423 308h3v3h-3zM445 308h3v3h-3zM468 308h3v3h-3zM475 308h3v3h-3zM186 311h3v3h-3zM344 311h3v3h-3zM354 311h6v3h-6zM361 311h12v3h-12zM374 311h9v3h-9zM384 311h9v3h-9zM394 311h3v3h-3zM410 311h6v3h-6zM417 311h9v3h-9zM468 311h3v3h-3zM475 311h3v3h-3zM344 314h6v3h-6zM354 314h6v3h-6zM361 314h12v3h-12zM374 314h6v3h-6zM384 314h9v3h-9zM394 314h3v3h-3zM407 314h9v3h-9zM417 314h9v3h-9zM445 314h3v3h-3zM475 314h3v3h-3zM341 317h9v3h-9zM354 317h6v3h-6zM361 317h9v3h-9zM374 317h6v3h-6zM384 317h9v3h-9zM394 317h3v3h-3zM407 317h9v3h-9zM417 317h9v3h-9zM338 321h3v3h-3zM344 321h6v3h-6zM354 321h6v3h-6zM361 321h12v3h-12zM377 321h6v3h-6zM384 321h9v3h-9zM394 321h3v3h-3zM407 321h9v3h-9zM417 321h9v3h-9zM338 324h3v3h-3zM344 324h3v3h-3zM354 324h6v3h-6zM361 324h12v3h-12zM377 324h6v3h-6zM387 324h6v3h-6zM394 324h3v3h-3zM407 324h3v3h-3zM413 324h3v3h-3zM417 324h9v3h-9zM468 324h3v3h-3zM315 327h3v3h-3zM338 327h3v3h-3zM344 327h6v3h-6zM354 327h6v3h-6zM361 327h12v3h-12zM377 327h6v3h-6zM384 327h9v3h-9zM407 327h9v3h-9zM417 327h9v3h-9zM282 331h3v3h-3zM338 331h3v3h-3zM344 331h6v3h-6zM354 331h6v3h-6zM364 331h9v3h-9zM377 331h3v3h-3zM387 331h6v3h-6zM407 331h9v3h-9zM417 331h9v3h-9zM452 331h3v3h-3zM472 331h3v3h-3zM186 334h3v3h-3zM282 334h3v3h-3zM338 334h3v3h-3zM344 334h3v3h-3zM354 334h6v3h-6zM361 334h12v3h-12zM377 334h6v3h-6zM384 334h9v3h-9zM410 334h3v3h-3zM417 334h9v3h-9zM468 334h3v3h-3zM472 334h3v3h-3zM338 337h3v3h-3zM344 337h6v3h-6zM354 337h6v3h-6zM361 337h12v3h-12zM377 337h6v3h-6zM384 337h9v3h-9zM407 337h6v3h-6zM417 337h9v3h-9zM452 337h3v3h-3zM186 339h3v3h-3zM278 339h3v3h-3zM315 339h3v3h-3zM338 339h3v3h-3zM344 339h6v3h-6zM354 339h3v3h-3zM361 339h12v3h-12zM377 339h6v3h-6zM384 339h9v3h-9zM410 339h3v3h-3zM420 339h6v3h-6zM452 339h3v3h-3zM468 339h3v3h-3zM472 339h3v3h-3zM259 343h3v3h-3zM278 343h3v3h-3zM282 343h3v3h-3zM308 343h3v3h-3zM315 343h3v3h-3zM338 343h12v3h-12zM354 343h3v3h-3zM364 343h9v3h-9zM377 343h6v3h-6zM384 343h3v3h-3zM407 343h6v3h-6zM417 343h9v3h-9zM452 343h3v3h-3zM468 343h3v3h-3zM153 346h3v3h-3zM229 346h3v3h-3zM278 346h3v3h-3zM321 346h3v3h-3zM338 346h3v3h-3zM344 346h6v3h-6zM351 346h6v3h-6zM364 346h9v3h-9zM380 346h3v3h-3zM384 346h3v3h-3zM410 346h3v3h-3zM417 346h9v3h-9zM452 346h3v3h-3zM468 346h3v3h-3zM153 349h3v3h-3zM278 349h3v3h-3zM282 349h3v3h-3zM291 349h3v3h-3zM311 349h3v3h-3zM315 349h9v3h-9zM338 349h12v3h-12zM351 349h9v3h-9zM364 349h6v3h-6zM377 349h6v3h-6zM384 349h3v3h-3zM390 349h3v3h-3zM423 349h3v3h-3zM452 349h3v3h-3zM468 349h3v3h-3zM472 349h3v3h-3zM242 353h3v3h-3zM278 353h3v3h-3zM282 353h9v3h-9zM315 353h9v3h-9zM338 353h3v3h-3zM344 353h3v3h-3zM354 353h6v3h-6zM364 353h6v3h-6zM374 353h3v3h-3zM380 353h3v3h-3zM384 353h3v3h-3zM423 353h3v3h-3zM452 353h3v3h-3zM468 353h3v3h-3zM249 356h3v3h-3zM278 356h3v3h-3zM282 356h6v3h-6zM291 356h3v3h-3zM295 356h3v3h-3zM311 356h3v3h-3zM315 356h12v3h-12zM338 356h6v3h-6zM347 356h3v3h-3zM354 356h6v3h-6zM367 356h3v3h-3zM384 356h3v3h-3zM452 356h3v3h-3zM468 356h3v3h-3zM472 356h3v3h-3zM249 359h3v3h-3zM282 359h12v3h-12zM311 359h3v3h-3zM315 359h3v3h-3zM321 359h6v3h-6zM338 359h6v3h-6zM347 359h3v3h-3zM354 359h3v3h-3zM367 359h6v3h-6zM377 359h6v3h-6zM384 359h3v3h-3zM452 359h3v3h-3zM468 359h3v3h-3zM472 359h3v3h-3zM242 362h3v3h-3zM249 362h3v3h-3zM278 362h3v3h-3zM282 362h12v3h-12zM311 362h3v3h-3zM315 362h12v3h-12zM338 362h3v3h-3zM351 362h9v3h-9zM377 362h6v3h-6zM384 362h3v3h-3zM452 362h3v3h-3zM468 362h3v3h-3zM472 362h3v3h-3zM186 366h3v3h-3zM236 366h3v3h-3zM242 366h3v3h-3zM278 366h3v3h-3zM282 366h12v3h-12zM298 366h3v3h-3zM311 366h3v3h-3zM318 366h6v3h-6zM334 366h3v3h-3zM338 366h6v3h-6zM347 366h3v3h-3zM351 366h3v3h-3zM377 366h6v3h-6zM384 366h3v3h-3zM452 366h3v3h-3zM468 366h3v3h-3zM472 366h3v3h-3zM229 369h6v3h-6zM236 369h3v3h-3zM242 369h3v3h-3zM249 369h3v3h-3zM265 369h6v3h-6zM278 369h3v3h-3zM282 369h12v3h-12zM295 369h6v3h-6zM308 369h6v3h-6zM318 369h3v3h-3zM324 369h3v3h-3zM334 369h3v3h-3zM338 369h12v3h-12zM367 369h3v3h-3zM452 369h3v3h-3zM468 369h3v3h-3zM472 369h3v3h-3zM229 372h6v3h-6zM236 372h3v3h-3zM242 372h3v3h-3zM249 372h3v3h-3zM255 372h3v3h-3zM259 372h3v3h-3zM265 372h3v3h-3zM278 372h3v3h-3zM285 372h9v3h-9zM298 372h3v3h-3zM311 372h3v3h-3zM318 372h3v3h-3zM324 372h3v3h-3zM334 372h3v3h-3zM338 372h9v3h-9zM229 376h6v3h-6zM236 376h9v3h-9zM249 376h3v3h-3zM255 376h3v3h-3zM262 376h6v3h-6zM278 376h3v3h-3zM282 376h3v3h-3zM288 376h6v3h-6zM298 376h6v3h-6zM305 376h9v3h-9zM318 376h3v3h-3zM324 376h3v3h-3zM338 376h9v3h-9zM351 376h3v3h-3zM452 376h3v3h-3zM222 379h3v3h-3zM229 379h6v3h-6zM236 379h3v3h-3zM242 379h3v3h-3zM249 379h3v3h-3zM255 379h3v3h-3zM259 379h3v3h-3zM265 379h6v3h-6zM278 379h3v3h-3zM282 379h3v3h-3zM288 379h6v3h-6zM298 379h6v3h-6zM305 379h9v3h-9zM318 379h3v3h-3zM324 379h3v3h-3zM338 379h12v3h-12zM351 379h3v3h-3zM468 379h3v3h-3zM153 382h3v3h-3zM163 382h3v3h-3zM229 382h6v3h-6zM236 382h3v3h-3zM242 382h3v3h-3zM249 382h3v3h-3zM255 382h3v3h-3zM265 382h6v3h-6zM272 382h3v3h-3zM278 382h3v3h-3zM282 382h12v3h-12zM295 382h9v3h-9zM305 382h9v3h-9zM318 382h3v3h-3zM324 382h3v3h-3zM334 382h3v3h-3zM338 382h6v3h-6zM351 382h3v3h-3zM367 382h3v3h-3zM468 382h3v3h-3zM153 385h3v3h-3zM222 385h3v3h-3zM229 385h6v3h-6zM236 385h3v3h-3zM242 385h3v3h-3zM249 385h9v3h-9zM259 385h12v3h-12zM278 385h3v3h-3zM285 385h9v3h-9zM298 385h6v3h-6zM311 385h3v3h-3zM315 385h6v3h-6zM324 385h3v3h-3zM338 385h3v3h-3zM452 385h3v3h-3zM468 385h3v3h-3zM219 389h3v3h-3zM229 389h6v3h-6zM236 389h12v3h-12zM249 389h3v3h-3zM259 389h6v3h-6zM268 389h3v3h-3zM275 389h6v3h-6zM282 389h12v3h-12zM298 389h6v3h-6zM305 389h9v3h-9zM315 389h12v3h-12zM338 389h3v3h-3zM367 389h3v3h-3zM377 389h3v3h-3zM229 392h6v3h-6zM236 392h3v3h-3zM242 392h3v3h-3zM249 392h9v3h-9zM262 392h9v3h-9zM272 392h9v3h-9zM285 392h9v3h-9zM298 392h6v3h-6zM305 392h9v3h-9zM315 392h6v3h-6zM338 392h6v3h-6zM377 392h3v3h-3zM229 395h6v3h-6zM236 395h3v3h-3zM242 395h6v3h-6zM249 395h9v3h-9zM259 395h3v3h-3zM265 395h6v3h-6zM278 395h3v3h-3zM285 395h9v3h-9zM298 395h6v3h-6zM308 395h6v3h-6zM315 395h9v3h-9zM338 395h6v3h-6zM367 395h3v3h-3zM219 399h3v3h-3zM229 399h6v3h-6zM236 399h12v3h-12zM249 399h9v3h-9zM259 399h12v3h-12zM272 399h9v3h-9zM285 399h9v3h-9zM295 399h9v3h-9zM305 399h3v3h-3zM311 399h3v3h-3zM315 399h9v3h-9zM338 399h3v3h-3zM203 402h3v3h-3zM229 402h6v3h-6zM236 402h12v3h-12zM249 402h9v3h-9zM259 402h12v3h-12zM272 402h9v3h-9zM285 402h9v3h-9zM298 402h6v3h-6zM308 402h6v3h-6zM315 402h6v3h-6zM377 402h3v3h-3zM219 405h6v3h-6zM229 405h6v3h-6zM236 405h12v3h-12zM249 405h9v3h-9zM259 405h12v3h-12zM272 405h9v3h-9zM282 405h12v3h-12zM295 405h9v3h-9zM305 405h3v3h-3zM311 405h3v3h-3zM315 405h9v3h-9zM186 408h3v3h-3zM226 408h9v3h-9zM236 408h12v3h-12zM252 408h6v3h-6zM259 408h12v3h-12zM272 408h9v3h-9zM285 408h9v3h-9zM295 408h9v3h-9zM305 408h3v3h-3zM311 408h3v3h-3zM315 408h6v3h-6zM367 408h3v3h-3zM222 412h3v3h-3zM229 412h3v3h-3zM236 412h6v3h-6zM245 412h3v3h-3zM249 412h9v3h-9zM259 412h12v3h-12zM272 412h9v3h-9zM285 412h9v3h-9zM295 412h9v3h-9zM308 412h3v3h-3zM315 412h6v3h-6zM367 412h3v3h-3zM222 415h3v3h-3zM226 415h9v3h-9zM239 415h3v3h-3zM245 415h3v3h-3zM252 415h6v3h-6zM259 415h12v3h-12zM272 415h9v3h-9zM282 415h12v3h-12zM298 415h6v3h-6zM305 415h9v3h-9zM315 415h3v3h-3zM321 415h3v3h-3zM367 415h3v3h-3zM203 418h3v3h-3zM219 418h6v3h-6zM226 418h6v3h-6zM236 418h6v3h-6zM245 418h3v3h-3zM252 418h6v3h-6zM259 418h9v3h-9zM272 418h9v3h-9zM282 418h12v3h-12zM298 418h3v3h-3zM308 418h6v3h-6zM315 418h3v3h-3zM321 418h3v3h-3zM216 422h9v3h-9zM226 422h6v3h-6zM236 422h6v3h-6zM245 422h3v3h-3zM252 422h6v3h-6zM259 422h12v3h-12zM272 422h9v3h-9zM285 422h9v3h-9zM298 422h6v3h-6zM308 422h6v3h-6zM315 422h3v3h-3zM321 422h3v3h-3zM216 425h9v3h-9zM226 425h3v3h-3zM239 425h3v3h-3zM245 425h3v3h-3zM252 425h6v3h-6zM259 425h9v3h-9zM275 425h6v3h-6zM285 425h9v3h-9zM295 425h3v3h-3zM315 425h3v3h-3zM321 425h3v3h-3zM203 428h3v3h-3zM216 428h9v3h-9zM226 428h3v3h-3zM239 428h3v3h-3zM245 428h3v3h-3zM252 428h6v3h-6zM259 428h12v3h-12zM275 428h6v3h-6zM282 428h9v3h-9zM308 428h3v3h-3zM315 428h3v3h-3zM321 428h3v3h-3zM216 431h6v3h-6zM239 431h3v3h-3zM245 431h3v3h-3zM252 431h6v3h-6zM259 431h12v3h-12zM275 431h6v3h-6zM282 431h12v3h-12zM295 431h3v3h-3zM308 431h3v3h-3zM321 431h3v3h-3zM153 435h3v3h-3zM186 435h3v3h-3zM216 435h6v3h-6zM226 435h3v3h-3zM239 435h3v3h-3zM245 435h3v3h-3zM249 435h9v3h-9zM259 435h12v3h-12zM275 435h3v3h-3zM282 435h3v3h-3zM291 435h3v3h-3zM295 435h3v3h-3zM308 435h3v3h-3zM315 435h3v3h-3zM321 435h3v3h-3zM216 438h3v3h-3zM222 438h3v3h-3zM226 438h3v3h-3zM239 438h3v3h-3zM245 438h3v3h-3zM249 438h9v3h-9zM262 438h9v3h-9zM275 438h6v3h-6zM282 438h6v3h-6zM291 438h3v3h-3zM295 438h3v3h-3zM308 438h3v3h-3zM315 438h3v3h-3zM321 438h3v3h-3zM216 441h3v3h-3zM222 441h3v3h-3zM226 441h3v3h-3zM239 441h3v3h-3zM245 441h3v3h-3zM249 441h9v3h-9zM262 441h9v3h-9zM275 441h6v3h-6zM282 441h6v3h-6zM291 441h3v3h-3zM295 441h3v3h-3zM315 441h3v3h-3zM321 441h3v3h-3zM166 445h3v3h-3zM176 445h3v3h-3zM216 445h9v3h-9zM226 445h3v3h-3zM236 445h6v3h-6zM245 445h3v3h-3zM249 445h9v3h-9zM262 445h9v3h-9zM275 445h6v3h-6zM282 445h6v3h-6zM291 445h3v3h-3zM305 445h6v3h-6zM315 445h3v3h-3zM203 448h3v3h-3zM222 448h3v3h-3zM226 448h3v3h-3zM232 448h3v3h-3zM236 448h6v3h-6zM252 448h3v3h-3zM265 448h6v3h-6zM282 448h3v3h-3zM295 448h3v3h-3zM308 448h3v3h-3zM315 448h3v3h-3zM176 451h3v3h-3zM203 451h3v3h-3zM222 451h3v3h-3zM232 451h3v3h-3zM236 451h6v3h-6zM245 451h3v3h-3zM265 451h6v3h-6zM282 451h3v3h-3zM291 451h3v3h-3zM315 451h3v3h-3zM472 451h3v3h-3zM153 454h3v3h-3zM176 454h3v3h-3zM203 454h3v3h-3zM232 454h3v3h-3zM236 454h6v3h-6zM249 454h3v3h-3zM262 454h9v3h-9zM282 454h3v3h-3zM166 458h3v3h-3zM176 458h3v3h-3zM203 458h3v3h-3zM229 458h6v3h-6zM239 458h6v3h-6zM252 458h3v3h-3zM265 458h6v3h-6zM285 458h3v3h-3zM315 458h3v3h-3zM153 461h3v3h-3zM176 461h3v3h-3zM180 461h3v3h-3zM203 461h3v3h-3zM229 461h3v3h-3zM239 461h3v3h-3zM262 461h6v3h-6zM308 461h3v3h-3zM153 464h3v3h-3zM176 464h3v3h-3zM203 464h3v3h-3zM209 464h3v3h-3zM229 464h3v3h-3zM239 464h3v3h-3zM255 464h3v3h-3zM265 464h6v3h-6zM166 468h3v3h-3zM176 468h3v3h-3zM186 468h3v3h-3zM203 468h3v3h-3zM209 468h3v3h-3zM229 468h3v3h-3zM239 468h3v3h-3zM252 468h3v3h-3zM262 468h3v3h-3zM153 471h3v3h-3zM176 471h3v3h-3zM186 471h6v3h-6zM196 471h3v3h-3zM203 471h3v3h-3zM219 471h6v3h-6zM226 471h9v3h-9zM252 471h3v3h-3zM265 471h3v3h-3zM153 474h3v3h-3zM176 474h3v3h-3zM180 474h3v3h-3zM186 474h6v3h-6zM203 474h3v3h-3zM222 474h3v3h-3zM226 474h9v3h-9zM265 474h3v3h-3zM180 477h12v3h-12zM203 477h3v3h-3zM209 477h6v3h-6zM216 477h3v3h-3zM222 477h3v3h-3zM226 477h9v3h-9zM265 477h3v3h-3zM153 481h3v3h-3zM166 481h3v3h-3zM176 481h3v3h-3zM180 481h3v3h-3zM186 481h6v3h-6zM193 481h6v3h-6zM203 481h12v3h-12zM216 481h9v3h-9zM226 481h9v3h-9zM239 481h3v3h-3zM265 481h3v3h-3zM166 484h3v3h-3zM170 484h6v3h-6zM180 484h6v3h-6zM189 484h3v3h-3zM193 484h9v3h-9zM203 484h12v3h-12zM216 484h9v3h-9zM226 484h9v3h-9zM239 484h3v3h-3zM153 487h3v3h-3zM166 487h3v3h-3zM170 487h9v3h-9zM180 487h6v3h-6zM189 487h3v3h-3zM193 487h9v3h-9zM206 487h9v3h-9zM216 487h9v3h-9zM226 487h9v3h-9zM239 487h3v3h-3zM153 491h3v3h-3zM160 491h9v3h-9zM170 491h9v3h-9zM180 491h6v3h-6zM189 491h3v3h-3zM193 491h9v3h-9zM206 491h9v3h-9zM216 491h9v3h-9zM226 491h6v3h-6zM239 491h3v3h-3zM160 494h3v3h-3zM166 494h3v3h-3zM170 494h9v3h-9zM180 494h6v3h-6zM193 494h9v3h-9zM206 494h9v3h-9zM216 494h6v3h-6zM229 494h3v3h-3zM153 497h3v3h-3zM160 497h9v3h-9zM170 497h9v3h-9zM180 497h6v3h-6zM189 497h3v3h-3zM193 497h9v3h-9zM206 497h9v3h-9zM216 497h6v3h-6zM140 500h3v3h-3zM150 500h6v3h-6zM160 500h9v3h-9zM170 500h9v3h-9zM183 500h3v3h-3zM189 500h3v3h-3zM193 500h9v3h-9zM206 500h9v3h-9zM216 500h3v3h-3zM150 504h6v3h-6zM160 504h9v3h-9zM170 504h9v3h-9zM196 504h6v3h-6zM206 504h9v3h-9zM216 504h3v3h-3zM140 507h6v3h-6zM150 507h6v3h-6zM160 507h6v3h-6zM170 507h6v3h-6zM193 507h9v3h-9zM206 507h3v3h-3zM140 510h3v3h-3zM150 510h6v3h-6zM160 510h6v3h-6zM170 510h6v3h-6zM196 510h6v3h-6zM315 510h3v3h-3zM137 514h9v3h-9zM147 514h9v3h-9zM160 514h3v3h-3zM173 514h3v3h-3zM193 514h9v3h-9zM203 514h6v3h-6zM315 514h3v3h-3zM137 517h6v3h-6zM147 517h6v3h-6zM157 517h6v3h-6zM173 517h3v3h-3zM189 517h3v3h-3zM193 517h3v3h-3zM199 517h3v3h-3zM203 517h3v3h-3zM315 517h3v3h-3zM140 520h6v3h-6zM147 520h9v3h-9zM157 520h3v3h-3zM173 520h3v3h-3zM183 520h3v3h-3zM189 520h3v3h-3zM285 520h3v3h-3zM137 524h9v3h-9zM147 524h6v3h-6zM157 524h3v3h-3zM173 524h3v3h-3zM183 524h6v3h-6zM242 524h3v3h-3zM285 524h3v3h-3zM351 524h3v3h-3zM137 527h9v3h-9zM147 527h6v3h-6zM157 527h3v3h-3zM173 527h3v3h-3zM183 527h6v3h-6zM229 527h3v3h-3zM282 527h3v3h-3zM315 527h3v3h-3zM137 530h9v3h-9zM157 530h3v3h-3zM180 530h3v3h-3zM186 530h3v3h-3zM229 530h6v3h-6zM282 530h6v3h-6zM291 530h3v3h-3zM315 530h3v3h-3zM143 533h3v3h-3zM157 533h3v3h-3zM173 533h6v3h-6zM180 533h3v3h-3zM285 533h3v3h-3zM315 533h3v3h-3zM143 537h3v3h-3zM147 537h6v3h-6zM157 537h6v3h-6zM166 537h3v3h-3zM170 537h3v3h-3zM222 537h3v3h-3zM315 537h3v3h-3zM143 540h3v3h-3zM147 540h3v3h-3zM157 540h9v3h-9zM180 540h3v3h-3zM203 540h3v3h-3zM222 540h3v3h-3zM157 543h9v3h-9zM153 547h3v3h-3zM157 547h6v3h-6zM94 579h3v3h-3zM315 579h3v3h-3z"/><path fill="#0000ff" d="M410 216h3v3h-3zM410 219h3v3h-3zM410 222h3v3h-3zM410 225h3v3h-3zM410 229h3v3h-3zM367 232h3v3h-3zM410 232h3v3h-3zM367 235h3v3h-3zM380 235h3v3h-3zM367 239h3v3h-3zM380 239h3v3h-3zM410 239h3v3h-3zM367 242h3v3h-3zM380 242h3v3h-3zM367 245h3v3h-3zM380 245h3v3h-3zM410 245h3v3h-3zM367 248h3v3h-3zM380 248h3v3h-3zM384 248h3v3h-3zM410 248h3v3h-3zM367 252h3v3h-3zM380 252h3v3h-3zM384 252h3v3h-3zM410 252h3v3h-3zM367 255h3v3h-3zM380 255h3v3h-3zM384 255h3v3h-3zM367 258h3v3h-3zM380 258h3v3h-3zM384 258h3v3h-3zM367 262h3v3h-3zM380 262h3v3h-3zM384 262h3v3h-3zM407 262h3v3h-3zM367 265h3v3h-3zM380 265h3v3h-3zM407 265h3v3h-3zM367 268h3v3h-3zM380 268h3v3h-3zM407 268h6v3h-6zM367 271h3v3h-3zM380 271h3v3h-3zM367 275h3v3h-3zM380 275h3v3h-3zM384 275h3v3h-3zM367 278h3v3h-3zM380 278h3v3h-3zM367 281h3v3h-3zM420 281h3v3h-3zM367 285h3v3h-3zM420 285h3v3h-3zM367 288h3v3h-3zM410 288h3v3h-3zM420 288h3v3h-3zM351 291h3v3h-3zM367 291h3v3h-3zM387 291h3v3h-3zM410 291h3v3h-3zM420 291h3v3h-3zM351 294h3v3h-3zM384 294h3v3h-3zM390 294h3v3h-3zM420 294h3v3h-3zM351 298h3v3h-3zM384 298h6v3h-6zM420 298h3v3h-3zM351 301h3v3h-3zM380 301h3v3h-3zM387 301h6v3h-6zM420 301h3v3h-3zM351 304h3v3h-3zM384 304h6v3h-6zM420 304h3v3h-3zM351 308h3v3h-3zM420 308h3v3h-3zM351 311h3v3h-3zM407 311h3v3h-3zM351 314h3v3h-3zM380 314h3v3h-3zM351 317h3v3h-3zM380 317h3v3h-3zM351 321h3v3h-3zM351 324h3v3h-3zM351 327h3v3h-3zM351 331h3v3h-3zM351 334h3v3h-3zM351 337h3v3h-3zM351 339h3v3h-3zM351 343h3v3h-3zM351 353h3v3h-3zM351 356h3v3h-3zM380 356h3v3h-3zM351 359h3v3h-3zM315 366h3v3h-3zM315 369h3v3h-3zM321 369h3v3h-3zM351 369h3v3h-3zM282 372h3v3h-3zM315 372h3v3h-3zM321 372h3v3h-3zM351 372h3v3h-3zM285 376h3v3h-3zM315 376h3v3h-3zM321 376h3v3h-3zM285 379h3v3h-3zM315 379h3v3h-3zM321 379h3v3h-3zM315 382h3v3h-3zM321 382h3v3h-3zM282 385h3v3h-3zM321 385h3v3h-3zM282 392h3v3h-3zM321 392h3v3h-3zM282 395h3v3h-3zM282 399h3v3h-3zM282 402h3v3h-3zM249 408h3v3h-3zM282 408h3v3h-3zM232 412h3v3h-3zM242 412h3v3h-3zM282 412h3v3h-3zM236 415h3v3h-3zM242 415h3v3h-3zM249 415h3v3h-3zM232 418h3v3h-3zM242 418h3v3h-3zM249 418h3v3h-3zM268 418h3v3h-3zM232 422h3v3h-3zM242 422h3v3h-3zM249 422h3v3h-3zM282 422h3v3h-3zM229 425h6v3h-6zM236 425h3v3h-3zM242 425h3v3h-3zM249 425h3v3h-3zM268 425h3v3h-3zM282 425h3v3h-3zM229 428h6v3h-6zM236 428h3v3h-3zM242 428h3v3h-3zM249 428h3v3h-3zM222 431h3v3h-3zM226 431h9v3h-9zM236 431h3v3h-3zM242 431h3v3h-3zM249 431h3v3h-3zM315 431h3v3h-3zM222 435h3v3h-3zM229 435h6v3h-6zM236 435h3v3h-3zM242 435h3v3h-3zM229 438h6v3h-6zM236 438h3v3h-3zM242 438h3v3h-3zM229 441h6v3h-6zM236 441h3v3h-3zM242 441h3v3h-3zM229 445h6v3h-6zM242 445h3v3h-3zM229 448h3v3h-3zM242 448h3v3h-3zM229 451h3v3h-3zM242 451h3v3h-3zM229 454h3v3h-3zM242 454h3v3h-3zM265 468h3v3h-3zM239 471h3v3h-3zM239 474h3v3h-3zM239 477h3v3h-3zM186 484h3v3h-3zM186 487h3v3h-3zM203 487h3v3h-3zM186 491h3v3h-3zM203 491h3v3h-3zM186 494h6v3h-6zM203 494h3v3h-3zM186 497h3v3h-3zM203 497h3v3h-3zM180 500h3v3h-3zM186 500h3v3h-3zM203 500h3v3h-3zM180 504h12v3h-12zM193 504h3v3h-3zM203 504h3v3h-3zM166 507h3v3h-3zM176 507h3v3h-3zM180 507h12v3h-12zM203 507h3v3h-3zM166 510h3v3h-3zM176 510h3v3h-3zM180 510h12v3h-12zM193 510h3v3h-3zM203 510h3v3h-3zM163 514h6v3h-6zM170 514h3v3h-3zM176 514h3v3h-3zM180 514h12v3h-12zM153 517h3v3h-3zM163 517h6v3h-6zM170 517h3v3h-3zM176 517h3v3h-3zM180 517h9v3h-9zM160 520h9v3h-9zM170 520h3v3h-3zM176 520h3v3h-3zM180 520h3v3h-3zM186 520h3v3h-3zM153 524h3v3h-3zM160 524h9v3h-9zM170 524h3v3h-3zM176 524h3v3h-3zM180 524h3v3h-3zM153 527h3v3h-3zM160 527h9v3h-9zM170 527h3v3h-3zM176 527h3v3h-3zM180 527h3v3h-3zM147 530h9v3h-9zM160 530h9v3h-9zM170 530h9v3h-9zM147 533h9v3h-9zM160 533h9v3h-9zM170 533h3v3h-3zM153 537h3v3h-3zM163 537h3v3h-3zM150 540h6v3h-6zM315 540h3v3h-3zM163 547h3v3h-3z"/>
<path d="M93.5 582.5L205.5 545L263 524.5L356 492.5L428 467.7L472.5 453L640 395.3L681 381.3" stroke="#1a8048" stroke-width="1" fill="none"/>
<rect x="768" y="91" width="32" height="124" fill="#00a000"/>
<rect x="768" y="215" width="32" height="123" fill="#0000ff"/>
<rect x="768" y="338" width="32" height="123" fill="#80c0ff"/>
<rect x="768" y="461" width="32" height="121" fill="#e0e0e0"/>
<rect x="767.5" y="90.5" width="33" height="492" fill="none" stroke="#000"/>
<rect x="93.5" y="90.5" width="658" height="492" fill="none" stroke="#000"/>
<path d="M94 527.5h10M741 527.5h10M94 472.5h10M741 472.5h10M94 418.5h10M741 418.5h10M94 363.5h10M741 363.5h10M94 309.5h10M741 309.5h10M94 254.5h10M741 254.5h10M94 200.5h10M741 200.5h10M94 145.5h10M741 145.5h10M258.5 575v7M258.5 91v7M422.5 575v7M422.5 91v7M586.5 575v7M586.5 91v7M768 214.5h6M794 214.5h6M768 336.5h6M794 336.5h6M768 459.5h6M794 459.5h6" stroke="#000" stroke-width="1" fill="none"/>
</g>
<g class="s"><text x="82.3" y="586.3" text-anchor="end">0</text><text x="82.3" y="531.3" text-anchor="end">50</text><text x="82.3" y="476.3" text-anchor="end">100</text><text x="82.3" y="422.3" text-anchor="end">150</text><text x="82.3" y="367.3" text-anchor="end">200</text><text x="82.3" y="313.3" text-anchor="end">250</text><text x="82.3" y="258.3" text-anchor="end">300</text><text x="82.3" y="204.3" text-anchor="end">350</text><text x="82.3" y="149.3" text-anchor="end">400</text><text x="82.3" y="94.3" text-anchor="end">450</text><text x="95" y="602.6" text-anchor="middle">0</text><text x="260" y="602.6" text-anchor="middle">5000</text><text x="424" y="602.6" text-anchor="middle">10000</text><text x="588" y="602.6" text-anchor="middle">15000</text><text x="753" y="602.6" text-anchor="middle">20000</text><text x="811.5" y="586.5">1</text><text x="811.5" y="463.5">8</text><text x="811.5" y="341">64</text><text x="811.5" y="218.5">512</text><text x="811.5" y="95">4096</text></g>
<g class="m">
<text x="421.3" y="75.8" text-anchor="middle">RTT density versus geographical distance</text>
<text x="421.3" y="621.6" text-anchor="middle">Distance (km)</text>
<text transform="translate(60 338) rotate(-90)" text-anchor="middle">RTT (ms)</text>
</g>
</svg>
</body></html>
